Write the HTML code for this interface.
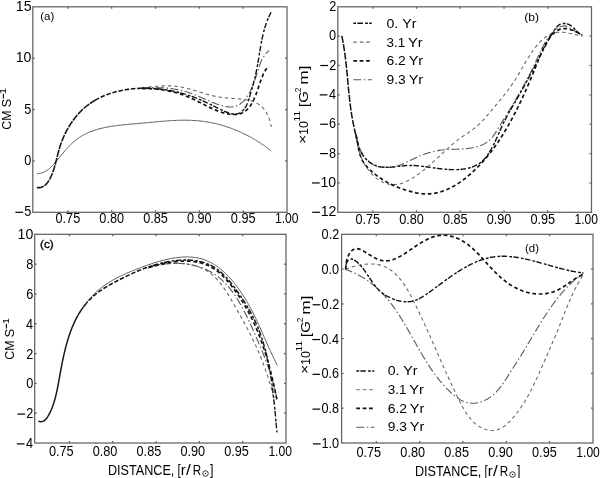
<!DOCTYPE html>
<html><head><meta charset="utf-8"><style>
html,body{margin:0;padding:0;background:#fff;width:600px;height:478px;overflow:hidden}
svg{display:block;font-family:"Liberation Sans", sans-serif;will-change:transform}
</style></head><body>
<svg width="600" height="478" viewBox="0 0 600 478" font-family='"Liberation Sans", sans-serif'>
<rect width="600" height="478" fill="#fff"/>
<rect x="32.8" y="6.8" width="254.2" height="205.5" fill="none" stroke="#626262" stroke-width="1.25"/>
<line x1="67.86" y1="212.3" x2="67.86" y2="210.3" stroke="#626262" stroke-width="1.25"/>
<line x1="67.86" y1="6.8" x2="67.86" y2="8.8" stroke="#626262" stroke-width="1.25"/>
<line x1="111.69" y1="212.3" x2="111.69" y2="210.3" stroke="#626262" stroke-width="1.25"/>
<line x1="111.69" y1="6.8" x2="111.69" y2="8.8" stroke="#626262" stroke-width="1.25"/>
<line x1="155.52" y1="212.3" x2="155.52" y2="210.3" stroke="#626262" stroke-width="1.25"/>
<line x1="155.52" y1="6.8" x2="155.52" y2="8.8" stroke="#626262" stroke-width="1.25"/>
<line x1="199.34" y1="212.3" x2="199.34" y2="210.3" stroke="#626262" stroke-width="1.25"/>
<line x1="199.34" y1="6.8" x2="199.34" y2="8.8" stroke="#626262" stroke-width="1.25"/>
<line x1="243.17" y1="212.3" x2="243.17" y2="210.3" stroke="#626262" stroke-width="1.25"/>
<line x1="243.17" y1="6.8" x2="243.17" y2="8.8" stroke="#626262" stroke-width="1.25"/>
<line x1="32.8" y1="58.17" x2="34.8" y2="58.17" stroke="#626262" stroke-width="1.25"/>
<line x1="287" y1="58.17" x2="285" y2="58.17" stroke="#626262" stroke-width="1.25"/>
<line x1="32.8" y1="109.55" x2="34.8" y2="109.55" stroke="#626262" stroke-width="1.25"/>
<line x1="287" y1="109.55" x2="285" y2="109.55" stroke="#626262" stroke-width="1.25"/>
<line x1="32.8" y1="160.93" x2="34.8" y2="160.93" stroke="#626262" stroke-width="1.25"/>
<line x1="287" y1="160.93" x2="285" y2="160.93" stroke="#626262" stroke-width="1.25"/>
<text x="15.81" y="10.90" font-size="14.1" textLength="15.68" lengthAdjust="spacingAndGlyphs">15</text>
<text x="15.78" y="62.27" font-size="14.1" textLength="15.68" lengthAdjust="spacingAndGlyphs">10</text>
<text x="24.36" y="113.65" font-size="14.1" textLength="7.06" lengthAdjust="spacingAndGlyphs">5</text>
<text x="24.33" y="165.03" font-size="14.1" textLength="7.06" lengthAdjust="spacingAndGlyphs">0</text>
<text x="24.36" y="216.40" font-size="14.1" textLength="7.06" lengthAdjust="spacingAndGlyphs">5</text>
<rect x="15.37" y="211.70" width="7.7" height="1.2" fill="#000"/>
<text x="55.52" y="223.20" font-size="14.1" textLength="24.70" lengthAdjust="spacingAndGlyphs">0.75</text>
<text x="99.33" y="223.20" font-size="14.1" textLength="24.70" lengthAdjust="spacingAndGlyphs">0.80</text>
<text x="143.18" y="223.20" font-size="14.1" textLength="24.70" lengthAdjust="spacingAndGlyphs">0.85</text>
<text x="186.99" y="223.20" font-size="14.1" textLength="24.70" lengthAdjust="spacingAndGlyphs">0.90</text>
<text x="230.83" y="223.20" font-size="14.1" textLength="24.70" lengthAdjust="spacingAndGlyphs">0.95</text>
<text x="274.98" y="223.20" font-size="14.1" textLength="23.60" lengthAdjust="spacingAndGlyphs">1.00</text>
<rect x="337.8" y="6.8" width="253.7" height="205.5" fill="none" stroke="#626262" stroke-width="1.25"/>
<line x1="372.79" y1="212.3" x2="372.79" y2="210.3" stroke="#626262" stroke-width="1.25"/>
<line x1="372.79" y1="6.8" x2="372.79" y2="8.8" stroke="#626262" stroke-width="1.25"/>
<line x1="416.53" y1="212.3" x2="416.53" y2="210.3" stroke="#626262" stroke-width="1.25"/>
<line x1="416.53" y1="6.8" x2="416.53" y2="8.8" stroke="#626262" stroke-width="1.25"/>
<line x1="460.28" y1="212.3" x2="460.28" y2="210.3" stroke="#626262" stroke-width="1.25"/>
<line x1="460.28" y1="6.8" x2="460.28" y2="8.8" stroke="#626262" stroke-width="1.25"/>
<line x1="504.02" y1="212.3" x2="504.02" y2="210.3" stroke="#626262" stroke-width="1.25"/>
<line x1="504.02" y1="6.8" x2="504.02" y2="8.8" stroke="#626262" stroke-width="1.25"/>
<line x1="547.76" y1="212.3" x2="547.76" y2="210.3" stroke="#626262" stroke-width="1.25"/>
<line x1="547.76" y1="6.8" x2="547.76" y2="8.8" stroke="#626262" stroke-width="1.25"/>
<line x1="337.8" y1="36.16" x2="339.8" y2="36.16" stroke="#626262" stroke-width="1.25"/>
<line x1="591.5" y1="36.16" x2="589.5" y2="36.16" stroke="#626262" stroke-width="1.25"/>
<line x1="337.8" y1="65.51" x2="339.8" y2="65.51" stroke="#626262" stroke-width="1.25"/>
<line x1="591.5" y1="65.51" x2="589.5" y2="65.51" stroke="#626262" stroke-width="1.25"/>
<line x1="337.8" y1="94.87" x2="339.8" y2="94.87" stroke="#626262" stroke-width="1.25"/>
<line x1="591.5" y1="94.87" x2="589.5" y2="94.87" stroke="#626262" stroke-width="1.25"/>
<line x1="337.8" y1="124.23" x2="339.8" y2="124.23" stroke="#626262" stroke-width="1.25"/>
<line x1="591.5" y1="124.23" x2="589.5" y2="124.23" stroke="#626262" stroke-width="1.25"/>
<line x1="337.8" y1="153.59" x2="339.8" y2="153.59" stroke="#626262" stroke-width="1.25"/>
<line x1="591.5" y1="153.59" x2="589.5" y2="153.59" stroke="#626262" stroke-width="1.25"/>
<line x1="337.8" y1="182.94" x2="339.8" y2="182.94" stroke="#626262" stroke-width="1.25"/>
<line x1="591.5" y1="182.94" x2="589.5" y2="182.94" stroke="#626262" stroke-width="1.25"/>
<text x="329.19" y="10.90" font-size="14.1" textLength="7.06" lengthAdjust="spacingAndGlyphs">2</text>
<text x="329.03" y="40.26" font-size="14.1" textLength="7.06" lengthAdjust="spacingAndGlyphs">0</text>
<text x="329.19" y="69.61" font-size="14.1" textLength="7.06" lengthAdjust="spacingAndGlyphs">2</text>
<rect x="320.33" y="64.91" width="7.7" height="1.2" fill="#000"/>
<text x="328.91" y="98.97" font-size="14.1" textLength="7.06" lengthAdjust="spacingAndGlyphs">4</text>
<rect x="319.69" y="94.27" width="7.7" height="1.2" fill="#000"/>
<text x="329.10" y="128.33" font-size="14.1" textLength="7.06" lengthAdjust="spacingAndGlyphs">6</text>
<rect x="320.23" y="123.63" width="7.7" height="1.2" fill="#000"/>
<text x="329.10" y="157.69" font-size="14.1" textLength="7.06" lengthAdjust="spacingAndGlyphs">8</text>
<rect x="320.14" y="152.99" width="7.7" height="1.2" fill="#000"/>
<text x="320.48" y="187.04" font-size="14.1" textLength="15.68" lengthAdjust="spacingAndGlyphs">10</text>
<rect x="312.04" y="182.34" width="7.7" height="1.2" fill="#000"/>
<text x="320.65" y="216.40" font-size="14.1" textLength="15.68" lengthAdjust="spacingAndGlyphs">12</text>
<rect x="312.21" y="211.70" width="7.7" height="1.2" fill="#000"/>
<text x="355.45" y="224.00" font-size="14.1" textLength="24.70" lengthAdjust="spacingAndGlyphs">0.75</text>
<text x="399.18" y="224.00" font-size="14.1" textLength="24.70" lengthAdjust="spacingAndGlyphs">0.80</text>
<text x="442.93" y="224.00" font-size="14.1" textLength="24.70" lengthAdjust="spacingAndGlyphs">0.85</text>
<text x="486.66" y="224.00" font-size="14.1" textLength="24.70" lengthAdjust="spacingAndGlyphs">0.90</text>
<text x="530.42" y="224.00" font-size="14.1" textLength="24.70" lengthAdjust="spacingAndGlyphs">0.95</text>
<text x="574.48" y="224.00" font-size="14.1" textLength="23.60" lengthAdjust="spacingAndGlyphs">1.00</text>
<rect x="34.7" y="234.3" width="251.3" height="208.7" fill="none" stroke="#626262" stroke-width="1.25"/>
<line x1="69.36" y1="443" x2="69.36" y2="441" stroke="#626262" stroke-width="1.25"/>
<line x1="69.36" y1="234.3" x2="69.36" y2="236.3" stroke="#626262" stroke-width="1.25"/>
<line x1="112.69" y1="443" x2="112.69" y2="441" stroke="#626262" stroke-width="1.25"/>
<line x1="112.69" y1="234.3" x2="112.69" y2="236.3" stroke="#626262" stroke-width="1.25"/>
<line x1="156.02" y1="443" x2="156.02" y2="441" stroke="#626262" stroke-width="1.25"/>
<line x1="156.02" y1="234.3" x2="156.02" y2="236.3" stroke="#626262" stroke-width="1.25"/>
<line x1="199.34" y1="443" x2="199.34" y2="441" stroke="#626262" stroke-width="1.25"/>
<line x1="199.34" y1="234.3" x2="199.34" y2="236.3" stroke="#626262" stroke-width="1.25"/>
<line x1="242.67" y1="443" x2="242.67" y2="441" stroke="#626262" stroke-width="1.25"/>
<line x1="242.67" y1="234.3" x2="242.67" y2="236.3" stroke="#626262" stroke-width="1.25"/>
<line x1="34.7" y1="264.11" x2="36.7" y2="264.11" stroke="#626262" stroke-width="1.25"/>
<line x1="286" y1="264.11" x2="284" y2="264.11" stroke="#626262" stroke-width="1.25"/>
<line x1="34.7" y1="293.93" x2="36.7" y2="293.93" stroke="#626262" stroke-width="1.25"/>
<line x1="286" y1="293.93" x2="284" y2="293.93" stroke="#626262" stroke-width="1.25"/>
<line x1="34.7" y1="323.74" x2="36.7" y2="323.74" stroke="#626262" stroke-width="1.25"/>
<line x1="286" y1="323.74" x2="284" y2="323.74" stroke="#626262" stroke-width="1.25"/>
<line x1="34.7" y1="353.56" x2="36.7" y2="353.56" stroke="#626262" stroke-width="1.25"/>
<line x1="286" y1="353.56" x2="284" y2="353.56" stroke="#626262" stroke-width="1.25"/>
<line x1="34.7" y1="383.37" x2="36.7" y2="383.37" stroke="#626262" stroke-width="1.25"/>
<line x1="286" y1="383.37" x2="284" y2="383.37" stroke="#626262" stroke-width="1.25"/>
<line x1="34.7" y1="413.19" x2="36.7" y2="413.19" stroke="#626262" stroke-width="1.25"/>
<line x1="286" y1="413.19" x2="284" y2="413.19" stroke="#626262" stroke-width="1.25"/>
<text x="17.58" y="239.30" font-size="14.1" textLength="15.68" lengthAdjust="spacingAndGlyphs">10</text>
<text x="26.20" y="269.11" font-size="14.1" textLength="7.06" lengthAdjust="spacingAndGlyphs">8</text>
<text x="26.20" y="298.93" font-size="14.1" textLength="7.06" lengthAdjust="spacingAndGlyphs">6</text>
<text x="26.01" y="328.74" font-size="14.1" textLength="7.06" lengthAdjust="spacingAndGlyphs">4</text>
<text x="26.29" y="358.56" font-size="14.1" textLength="7.06" lengthAdjust="spacingAndGlyphs">2</text>
<text x="26.13" y="388.37" font-size="14.1" textLength="7.06" lengthAdjust="spacingAndGlyphs">0</text>
<text x="26.29" y="418.19" font-size="14.1" textLength="7.06" lengthAdjust="spacingAndGlyphs">2</text>
<rect x="17.43" y="413.49" width="7.7" height="1.2" fill="#000"/>
<text x="26.01" y="448.00" font-size="14.1" textLength="7.06" lengthAdjust="spacingAndGlyphs">4</text>
<rect x="16.79" y="443.30" width="7.7" height="1.2" fill="#000"/>
<text x="48.91" y="456.30" font-size="14.1" textLength="24.70" lengthAdjust="spacingAndGlyphs">0.75</text>
<text x="92.72" y="456.30" font-size="14.1" textLength="24.70" lengthAdjust="spacingAndGlyphs">0.80</text>
<text x="136.57" y="456.30" font-size="14.1" textLength="24.70" lengthAdjust="spacingAndGlyphs">0.85</text>
<text x="180.38" y="456.30" font-size="14.1" textLength="24.70" lengthAdjust="spacingAndGlyphs">0.90</text>
<text x="224.23" y="456.30" font-size="14.1" textLength="24.70" lengthAdjust="spacingAndGlyphs">0.95</text>
<text x="268.38" y="456.30" font-size="14.1" textLength="23.60" lengthAdjust="spacingAndGlyphs">1.00</text>
<rect x="341.6" y="234.3" width="251.39999999999998" height="208.7" fill="none" stroke="#626262" stroke-width="1.25"/>
<line x1="376.28" y1="443" x2="376.28" y2="441" stroke="#626262" stroke-width="1.25"/>
<line x1="376.28" y1="234.3" x2="376.28" y2="236.3" stroke="#626262" stroke-width="1.25"/>
<line x1="419.62" y1="443" x2="419.62" y2="441" stroke="#626262" stroke-width="1.25"/>
<line x1="419.62" y1="234.3" x2="419.62" y2="236.3" stroke="#626262" stroke-width="1.25"/>
<line x1="462.97" y1="443" x2="462.97" y2="441" stroke="#626262" stroke-width="1.25"/>
<line x1="462.97" y1="234.3" x2="462.97" y2="236.3" stroke="#626262" stroke-width="1.25"/>
<line x1="506.31" y1="443" x2="506.31" y2="441" stroke="#626262" stroke-width="1.25"/>
<line x1="506.31" y1="234.3" x2="506.31" y2="236.3" stroke="#626262" stroke-width="1.25"/>
<line x1="549.66" y1="443" x2="549.66" y2="441" stroke="#626262" stroke-width="1.25"/>
<line x1="549.66" y1="234.3" x2="549.66" y2="236.3" stroke="#626262" stroke-width="1.25"/>
<line x1="341.6" y1="269.08" x2="343.6" y2="269.08" stroke="#626262" stroke-width="1.25"/>
<line x1="593" y1="269.08" x2="591" y2="269.08" stroke="#626262" stroke-width="1.25"/>
<line x1="341.6" y1="303.87" x2="343.6" y2="303.87" stroke="#626262" stroke-width="1.25"/>
<line x1="593" y1="303.87" x2="591" y2="303.87" stroke="#626262" stroke-width="1.25"/>
<line x1="341.6" y1="338.65" x2="343.6" y2="338.65" stroke="#626262" stroke-width="1.25"/>
<line x1="593" y1="338.65" x2="591" y2="338.65" stroke="#626262" stroke-width="1.25"/>
<line x1="341.6" y1="373.43" x2="343.6" y2="373.43" stroke="#626262" stroke-width="1.25"/>
<line x1="593" y1="373.43" x2="591" y2="373.43" stroke="#626262" stroke-width="1.25"/>
<line x1="341.6" y1="408.22" x2="343.6" y2="408.22" stroke="#626262" stroke-width="1.25"/>
<line x1="593" y1="408.22" x2="591" y2="408.22" stroke="#626262" stroke-width="1.25"/>
<text x="321.60" y="239.30" font-size="14.1" textLength="17.64" lengthAdjust="spacingAndGlyphs">0.2</text>
<text x="321.44" y="274.08" font-size="14.1" textLength="17.64" lengthAdjust="spacingAndGlyphs">0.0</text>
<text x="321.60" y="308.87" font-size="14.1" textLength="17.64" lengthAdjust="spacingAndGlyphs">0.2</text>
<rect x="312.60" y="304.17" width="7.7" height="1.2" fill="#000"/>
<text x="321.31" y="343.65" font-size="14.1" textLength="17.64" lengthAdjust="spacingAndGlyphs">0.4</text>
<rect x="312.32" y="338.95" width="7.7" height="1.2" fill="#000"/>
<text x="321.50" y="378.43" font-size="14.1" textLength="17.64" lengthAdjust="spacingAndGlyphs">0.6</text>
<rect x="312.51" y="373.73" width="7.7" height="1.2" fill="#000"/>
<text x="321.50" y="413.22" font-size="14.1" textLength="17.64" lengthAdjust="spacingAndGlyphs">0.8</text>
<rect x="312.51" y="408.52" width="7.7" height="1.2" fill="#000"/>
<text x="321.44" y="448.00" font-size="14.1" textLength="17.64" lengthAdjust="spacingAndGlyphs">1.0</text>
<rect x="312.89" y="443.30" width="7.7" height="1.2" fill="#000"/>
<text x="356.46" y="456.60" font-size="14.1" textLength="24.70" lengthAdjust="spacingAndGlyphs">0.75</text>
<text x="400.34" y="456.60" font-size="14.1" textLength="24.70" lengthAdjust="spacingAndGlyphs">0.80</text>
<text x="444.26" y="456.60" font-size="14.1" textLength="24.70" lengthAdjust="spacingAndGlyphs">0.85</text>
<text x="488.14" y="456.60" font-size="14.1" textLength="24.70" lengthAdjust="spacingAndGlyphs">0.90</text>
<text x="532.06" y="456.60" font-size="14.1" textLength="24.70" lengthAdjust="spacingAndGlyphs">0.95</text>
<text x="576.28" y="456.60" font-size="14.1" textLength="23.60" lengthAdjust="spacingAndGlyphs">1.00</text>
<text x="40.23" y="20.40" font-size="11.5" textLength="14.09" lengthAdjust="spacingAndGlyphs">(a)</text>
<text x="524.24" y="20.50" font-size="11.5" textLength="14.81" lengthAdjust="spacingAndGlyphs">(b)</text>
<text x="39.96" y="247.80" font-size="11.5" textLength="13.79" lengthAdjust="spacingAndGlyphs" stroke="#000" stroke-width="0.35">(c)</text>
<text x="524.98" y="252.00" font-size="11.5" textLength="14.03" lengthAdjust="spacingAndGlyphs">(d)</text>
<text x="107.96" y="474.60" font-size="14.1" textLength="66.43" lengthAdjust="spacingAndGlyphs">DISTANCE,</text>
<text x="177.42" y="474.60" font-size="14.1" textLength="3.17" lengthAdjust="spacingAndGlyphs">[</text>
<text x="180.74" y="474.60" font-size="14.1" textLength="5.00" lengthAdjust="spacingAndGlyphs">r</text>
<text x="186.00" y="474.60" font-size="14.1" textLength="4.81" lengthAdjust="spacingAndGlyphs">/</text>
<text x="192.64" y="474.60" font-size="14.1" textLength="8.41" lengthAdjust="spacingAndGlyphs">R</text>
<text x="210.11" y="474.60" font-size="14.1" textLength="3.47" lengthAdjust="spacingAndGlyphs">]</text>
<circle cx="205.5" cy="473.5" r="2.75" fill="none" stroke="#222" stroke-width="0.9"/>
<circle cx="205.5" cy="473.5" r="0.75" fill="#222"/>
<text x="414.96" y="475.60" font-size="14.1" textLength="66.43" lengthAdjust="spacingAndGlyphs">DISTANCE,</text>
<text x="484.42" y="475.60" font-size="14.1" textLength="3.17" lengthAdjust="spacingAndGlyphs">[</text>
<text x="487.74" y="475.60" font-size="14.1" textLength="5.00" lengthAdjust="spacingAndGlyphs">r</text>
<text x="493.00" y="475.60" font-size="14.1" textLength="4.81" lengthAdjust="spacingAndGlyphs">/</text>
<text x="499.64" y="475.60" font-size="14.1" textLength="8.41" lengthAdjust="spacingAndGlyphs">R</text>
<text x="517.11" y="475.60" font-size="14.1" textLength="3.47" lengthAdjust="spacingAndGlyphs">]</text>
<circle cx="512.5" cy="474.5" r="2.75" fill="none" stroke="#222" stroke-width="0.9"/>
<circle cx="512.5" cy="474.5" r="0.75" fill="#222"/>
<g transform="translate(10.9,129.1) rotate(-90)">
<text x="-0.62" y="0.00" font-size="13.1" textLength="19.24" lengthAdjust="spacingAndGlyphs">CM</text>
<text x="21.51" y="0.00" font-size="13.1" textLength="8.70" lengthAdjust="spacingAndGlyphs">S</text>
<rect x="30.6" y="-8.05" width="4.6" height="1.1" fill="#000"/>
<text x="34.83" y="-4.60" font-size="8.6" textLength="6.43" lengthAdjust="spacingAndGlyphs">1</text>
</g>
<g transform="translate(13.9,359.1) rotate(-90)">
<text x="-0.62" y="0.00" font-size="13.1" textLength="19.24" lengthAdjust="spacingAndGlyphs">CM</text>
<text x="21.51" y="0.00" font-size="13.1" textLength="8.70" lengthAdjust="spacingAndGlyphs">S</text>
<rect x="30.6" y="-8.05" width="4.6" height="1.1" fill="#000"/>
<text x="34.83" y="-4.60" font-size="8.6" textLength="6.43" lengthAdjust="spacingAndGlyphs">1</text>
</g>
<g transform="translate(308.0,142.8) rotate(-90)">
<text x="-1.13" y="-0.60" font-size="13.1" textLength="9.45" lengthAdjust="spacingAndGlyphs">×</text>
<text x="7.76" y="0.00" font-size="13.1" textLength="13.94" lengthAdjust="spacingAndGlyphs">10</text>
<text x="21.35" y="-7.80" font-size="9.0" textLength="10.44" lengthAdjust="spacingAndGlyphs">11</text>
<text x="35.91" y="0.00" font-size="13.1" textLength="15.82" lengthAdjust="spacingAndGlyphs">[G</text>
<text x="50.68" y="-7.30" font-size="9.0" textLength="4.64" lengthAdjust="spacingAndGlyphs">2</text>
<text x="58.03" y="0.00" font-size="13.1" textLength="19.30" lengthAdjust="spacingAndGlyphs">m]</text>
</g>
<g transform="translate(310.0,372.8) rotate(-90)">
<text x="-1.13" y="-0.60" font-size="13.1" textLength="9.45" lengthAdjust="spacingAndGlyphs">×</text>
<text x="7.76" y="0.00" font-size="13.1" textLength="13.94" lengthAdjust="spacingAndGlyphs">10</text>
<text x="21.35" y="-7.80" font-size="9.0" textLength="10.44" lengthAdjust="spacingAndGlyphs">11</text>
<text x="35.91" y="0.00" font-size="13.1" textLength="15.82" lengthAdjust="spacingAndGlyphs">[G</text>
<text x="50.68" y="-7.30" font-size="9.0" textLength="4.64" lengthAdjust="spacingAndGlyphs">2</text>
<text x="58.03" y="0.00" font-size="13.1" textLength="19.30" lengthAdjust="spacingAndGlyphs">m]</text>
</g>
<line x1="353.3" y1="23.30" x2="371.8" y2="23.30" stroke="#111" stroke-width="1.4" stroke-dasharray="2.8 1.3 5.5 2.2"/>
<text x="386.54" y="27.80" font-size="13.0" textLength="11.75" lengthAdjust="spacingAndGlyphs">0.</text>
<text x="402.18" y="27.80" font-size="13.0" textLength="14.23" lengthAdjust="spacingAndGlyphs">Yr</text>
<line x1="353.3" y1="42.13" x2="371.8" y2="42.13" stroke="#6a6a6a" stroke-width="1.1" stroke-dasharray="3.5 3"/>
<text x="386.60" y="46.60" font-size="13.0" textLength="18.64" lengthAdjust="spacingAndGlyphs">3.1</text>
<text x="407.97" y="46.60" font-size="13.0" textLength="14.75" lengthAdjust="spacingAndGlyphs">Yr</text>
<line x1="353.3" y1="60.96" x2="371.8" y2="60.96" stroke="#111" stroke-width="1.7" stroke-dasharray="3.7 2.7"/>
<text x="386.51" y="65.40" font-size="13.0" textLength="19.29" lengthAdjust="spacingAndGlyphs">6.2</text>
<text x="408.67" y="65.40" font-size="13.0" textLength="14.55" lengthAdjust="spacingAndGlyphs">Yr</text>
<line x1="353.3" y1="79.79" x2="371.8" y2="79.79" stroke="#5a5a5a" stroke-width="1.1" stroke-dasharray="8 2.5 1.5 2.5"/>
<text x="386.55" y="84.20" font-size="13.0" textLength="19.14" lengthAdjust="spacingAndGlyphs">9.3</text>
<text x="408.67" y="84.20" font-size="13.0" textLength="14.55" lengthAdjust="spacingAndGlyphs">Yr</text>
<line x1="356.3" y1="371.00" x2="374.3" y2="371.00" stroke="#111" stroke-width="1.4" stroke-dasharray="2.8 1.3 5.5 2.2"/>
<text x="387.74" y="375.20" font-size="13.0" textLength="11.75" lengthAdjust="spacingAndGlyphs">0.</text>
<text x="403.38" y="375.20" font-size="13.0" textLength="14.23" lengthAdjust="spacingAndGlyphs">Yr</text>
<line x1="356.3" y1="389.73" x2="374.3" y2="389.73" stroke="#6a6a6a" stroke-width="1.1" stroke-dasharray="3.5 3"/>
<text x="387.80" y="393.93" font-size="13.0" textLength="18.64" lengthAdjust="spacingAndGlyphs">3.1</text>
<text x="409.17" y="393.93" font-size="13.0" textLength="14.75" lengthAdjust="spacingAndGlyphs">Yr</text>
<line x1="356.3" y1="408.46" x2="374.3" y2="408.46" stroke="#111" stroke-width="1.7" stroke-dasharray="3.7 2.7"/>
<text x="387.71" y="412.66" font-size="13.0" textLength="19.29" lengthAdjust="spacingAndGlyphs">6.2</text>
<text x="409.87" y="412.66" font-size="13.0" textLength="14.55" lengthAdjust="spacingAndGlyphs">Yr</text>
<line x1="356.3" y1="427.19" x2="374.3" y2="427.19" stroke="#5a5a5a" stroke-width="1.1" stroke-dasharray="8 2.5 1.5 2.5"/>
<text x="387.75" y="431.39" font-size="13.0" textLength="19.14" lengthAdjust="spacingAndGlyphs">9.3</text>
<text x="409.87" y="431.39" font-size="13.0" textLength="14.55" lengthAdjust="spacingAndGlyphs">Yr</text>
<path d="M37.10,173.69 L38.33,173.62 L39.50,173.47 L40.64,173.25 L41.74,172.95 L42.81,172.59 L43.84,172.17 L44.84,171.68 L45.81,171.14 L46.75,170.54 L47.67,169.90 L48.57,169.21 L49.44,168.49 L50.30,167.72 L51.14,166.92 L51.96,166.09 L52.77,165.23 L53.58,164.35 L54.37,163.46 L55.16,162.54 L55.95,161.62 L56.73,160.69 L57.52,159.75 L58.30,158.80 L59.08,157.85 L59.86,156.90 L60.65,155.95 L61.44,155.00 L62.23,154.05 L63.02,153.10 L63.82,152.15 L64.62,151.21 L65.42,150.28 L66.24,149.35 L67.06,148.44 L67.88,147.54 L68.72,146.64 L69.56,145.77 L70.41,144.90 L71.27,144.05 L72.14,143.23 L73.02,142.42 L73.91,141.63 L74.82,140.86 L75.73,140.11 L76.66,139.39 L77.60,138.69 L78.56,138.02 L79.53,137.37 L80.51,136.74 L81.50,136.13 L82.50,135.55 L83.51,134.98 L84.54,134.44 L85.57,133.91 L86.62,133.41 L87.67,132.92 L88.74,132.46 L89.81,132.01 L90.90,131.58 L91.99,131.16 L93.09,130.76 L94.20,130.38 L95.32,130.02 L96.45,129.67 L97.58,129.33 L98.72,129.01 L99.87,128.70 L101.03,128.41 L102.19,128.13 L103.36,127.86 L104.53,127.60 L105.71,127.36 L106.90,127.13 L108.09,126.90 L109.28,126.69 L110.48,126.49 L111.69,126.30 L112.90,126.11 L114.11,125.94 L115.33,125.77 L116.55,125.61 L117.77,125.45 L119.00,125.31 L120.22,125.16 L121.45,125.03 L122.69,124.90 L123.92,124.77 L125.16,124.65 L126.39,124.53 L127.63,124.42 L128.87,124.31 L130.11,124.20 L131.35,124.09 L132.58,123.98 L133.82,123.88 L135.06,123.77 L136.30,123.67 L137.53,123.56 L138.77,123.46 L140.00,123.35 L141.23,123.24 L142.45,123.13 L143.68,123.02 L144.90,122.90 L146.13,122.79 L147.35,122.67 L148.56,122.56 L149.78,122.44 L151.00,122.32 L152.21,122.21 L153.42,122.10 L154.63,121.98 L155.84,121.87 L157.04,121.76 L158.25,121.65 L159.45,121.54 L160.66,121.44 L161.86,121.33 L163.06,121.23 L164.25,121.14 L165.45,121.04 L166.65,120.95 L167.84,120.87 L169.04,120.79 L170.23,120.71 L171.42,120.64 L172.61,120.57 L173.80,120.50 L174.99,120.45 L176.18,120.40 L177.36,120.35 L178.55,120.31 L179.74,120.28 L180.92,120.25 L182.10,120.23 L183.29,120.22 L184.47,120.21 L185.65,120.21 L186.84,120.22 L188.02,120.24 L189.20,120.27 L190.38,120.31 L191.56,120.35 L192.74,120.41 L193.92,120.47 L195.11,120.54 L196.29,120.63 L197.47,120.72 L198.65,120.83 L199.83,120.94 L201.01,121.07 L202.19,121.21 L203.37,121.36 L204.55,121.52 L205.73,121.69 L206.91,121.88 L208.09,122.08 L209.27,122.29 L210.46,122.51 L211.64,122.75 L212.82,122.99 L213.99,123.25 L215.17,123.52 L216.35,123.80 L217.53,124.09 L218.70,124.39 L219.87,124.71 L221.04,125.03 L222.21,125.37 L223.38,125.72 L224.54,126.07 L225.70,126.44 L226.86,126.82 L228.02,127.21 L229.18,127.61 L230.33,128.02 L231.47,128.44 L232.62,128.87 L233.76,129.31 L234.90,129.76 L236.03,130.22 L237.16,130.69 L238.29,131.17 L239.41,131.66 L240.52,132.16 L241.63,132.66 L242.74,133.18 L243.84,133.71 L244.94,134.24 L246.03,134.78 L247.12,135.34 L248.20,135.90 L249.28,136.47 L250.34,137.04 L251.41,137.63 L252.46,138.22 L253.52,138.83 L254.56,139.44 L255.60,140.06 L256.63,140.68 L257.65,141.32 L258.67,141.96 L259.68,142.61 L260.68,143.27 L261.67,143.94 L262.66,144.61 L263.63,145.29 L264.60,145.97 L265.57,146.67 L266.52,147.37 L267.46,148.08 L268.40,148.79 L269.33,149.51 L270.24,150.24 L271.15,150.98" fill="none" stroke="#5a5a5a" stroke-width="1.0" stroke-linecap="butt" stroke-linejoin="round"/>
<path d="M36.87,187.51 L38.12,187.63 L39.30,187.61 L40.43,187.45 L41.50,187.17 L42.51,186.77 L43.47,186.27 L44.38,185.67 L45.23,184.98 L46.05,184.21 L46.81,183.37 L47.54,182.47 L48.23,181.51 L48.87,180.52 L49.49,179.48 L50.07,178.43 L50.62,177.35 L51.13,176.26 L51.63,175.17 L52.09,174.06 L52.53,172.94 L52.95,171.81 L53.35,170.68 L53.73,169.53 L54.10,168.38 L54.45,167.22 L54.78,166.06 L55.11,164.89 L55.42,163.72 L55.73,162.54 L56.03,161.36 L56.33,160.18 L56.62,158.99 L56.91,157.80 L57.21,156.61 L57.50,155.42 L57.80,154.23 L58.11,153.05 L58.42,151.86 L58.75,150.67 L59.08,149.49 L59.43,148.31 L59.79,147.14 L60.17,145.97 L60.56,144.80 L60.96,143.64 L61.38,142.49 L61.82,141.34 L62.26,140.19 L62.72,139.06 L63.20,137.92 L63.69,136.80 L64.19,135.68 L64.71,134.57 L65.24,133.47 L65.78,132.37 L66.34,131.29 L66.91,130.21 L67.50,129.14 L68.10,128.08 L68.71,127.03 L69.34,125.99 L69.97,124.96 L70.63,123.94 L71.29,122.93 L71.97,121.94 L72.66,120.95 L73.37,119.98 L74.09,119.01 L74.82,118.06 L75.56,117.13 L76.32,116.20 L77.09,115.29 L77.87,114.39 L78.67,113.51 L79.47,112.64 L80.30,111.78 L81.13,110.94 L81.98,110.12 L82.83,109.31 L83.71,108.52 L84.59,107.74 L85.49,106.98 L86.39,106.23 L87.32,105.51 L88.25,104.79 L89.19,104.10 L90.15,103.42 L91.12,102.76 L92.09,102.11 L93.08,101.48 L94.08,100.87 L95.09,100.27" fill="none" stroke="#111" stroke-width="1.55" stroke-dasharray="7 1" stroke-linecap="butt" stroke-linejoin="round"/>
<path d="M95.09,100.27 L96.11,99.69 L97.14,99.12 L98.18,98.57 L99.23,98.03 L100.29,97.51 L101.35,97.01 L102.43,96.52 L103.51,96.04 L104.61,95.58 L105.71,95.13 L106.81,94.70 L107.93,94.29 L109.05,93.89 L110.18,93.50 L111.32,93.13 L112.47,92.77 L113.62,92.43 L114.77,92.10 L115.94,91.78 L117.11,91.48 L118.28,91.20 L119.46,90.92 L120.65,90.66 L121.84,90.42 L123.03,90.19 L124.23,89.97 L125.43,89.76 L126.64,89.57 L127.85,89.39 L129.07,89.22 L130.28,89.07 L131.51,88.93 L132.73,88.80 L133.96,88.69 L135.19,88.59 L136.42,88.50 L137.65,88.42 L138.89,88.36 L140.12,88.30 L141.36,88.26 L142.60,88.23" fill="none" stroke="#111" stroke-width="1.55" stroke-dasharray="4.5 1.8" stroke-linecap="butt" stroke-linejoin="round"/>
<path d="M141.90,87.97 L143.12,87.80 L144.33,87.64 L145.55,87.48 L146.76,87.33 L147.97,87.18 L149.18,87.03 L150.39,86.89 L151.60,86.76 L152.81,86.63 L154.02,86.51 L155.22,86.40 L156.43,86.29 L157.63,86.20 L158.83,86.11 L160.03,86.04 L161.23,85.97 L162.43,85.92 L163.63,85.88 L164.82,85.85 L166.02,85.84 L167.21,85.84 L168.40,85.85 L169.59,85.88 L170.78,85.92 L171.96,85.98 L173.15,86.06 L174.33,86.15 L175.51,86.26 L176.69,86.39 L177.87,86.54 L179.05,86.71 L180.22,86.89 L181.40,87.10 L182.57,87.33 L183.74,87.57 L184.90,87.83 L186.07,88.11 L187.24,88.40 L188.40,88.71 L189.57,89.02 L190.73,89.35 L191.90,89.68 L193.06,90.02 L194.23,90.37 L195.39,90.73 L196.56,91.08 L197.72,91.45 L198.89,91.81 L200.06,92.17 L201.22,92.53 L202.39,92.89 L203.57,93.25 L204.74,93.60 L205.91,93.95 L207.09,94.29 L208.27,94.62 L209.45,94.94 L210.63,95.25 L211.81,95.55 L213.00,95.83 L214.19,96.10 L215.39,96.36 L216.58,96.59 L217.78,96.81 L218.99,97.01 L220.19,97.19 L221.40,97.36 L222.61,97.51 L223.83,97.64 L225.04,97.77 L226.26,97.89 L227.47,97.99 L228.69,98.09 L229.91,98.19 L231.13,98.28 L232.34,98.37 L233.55,98.46 L234.77,98.55 L235.98,98.64 L237.19,98.74 L238.39,98.84 L239.59,98.95 L240.79,99.07 L241.98,99.20 L243.17,99.34 L244.35,99.50 L245.53,99.67 L246.69,99.86 L247.85,100.08 L248.99,100.32 L250.12,100.59 L251.22,100.89 L252.31,101.23 L253.39,101.60 L254.43,102.01 L255.46,102.46 L256.46,102.96 L257.43,103.50 L258.38,104.10 L259.29,104.73 L260.18,105.41 L261.04,106.14 L261.87,106.90 L262.67,107.71 L263.44,108.56 L264.18,109.45 L264.89,110.38 L265.57,111.35 L266.21,112.36 L266.82,113.40 L267.40,114.47 L267.94,115.59 L268.45,116.73 L268.93,117.91 L269.37,119.12 L269.77,120.36 L270.14,121.63 L270.47,122.93 L270.76,124.26 L271.02,125.62 L271.24,127.00" fill="none" stroke="#6a6a6a" stroke-width="1.1" stroke-dasharray="3.5 3" stroke-linecap="butt" stroke-linejoin="round"/>
<path d="M141.55,88.14 L142.77,88.05 L144.00,87.97 L145.22,87.89 L146.45,87.83 L147.67,87.78 L148.89,87.73 L150.11,87.70 L151.32,87.67 L152.53,87.65 L153.74,87.63 L154.94,87.63 L156.15,87.64 L157.35,87.66 L158.54,87.68 L159.74,87.72 L160.93,87.76 L162.12,87.82 L163.31,87.89 L164.49,87.96 L165.67,88.05 L166.85,88.15 L168.03,88.27 L169.20,88.39 L170.37,88.52 L171.54,88.67 L172.71,88.83 L173.88,89.01 L175.04,89.19 L176.20,89.39 L177.36,89.60 L178.51,89.83 L179.67,90.07 L180.82,90.32 L181.97,90.59 L183.11,90.88 L184.26,91.17 L185.40,91.49 L186.54,91.82 L187.68,92.16 L188.82,92.52 L189.95,92.90 L191.09,93.29 L192.22,93.70 L193.35,94.12 L194.48,94.56 L195.61,95.02 L196.73,95.48 L197.86,95.96 L198.98,96.44 L200.11,96.94 L201.24,97.43 L202.36,97.94 L203.49,98.44 L204.62,98.95 L205.76,99.46 L206.89,99.96 L208.03,100.46 L209.17,100.96 L210.31,101.45 L211.46,101.93 L212.61,102.41 L213.77,102.87 L214.93,103.32 L216.09,103.76 L217.26,104.18 L218.44,104.58 L219.62,104.97 L220.80,105.33 L221.99,105.66 L223.17,105.96 L224.35,106.23 L225.52,106.47 L226.68,106.66 L227.84,106.80 L228.98,106.90 L230.11,106.95 L231.22,106.94 L232.31,106.87 L233.38,106.74 L234.43,106.54 L235.45,106.27 L236.45,105.94 L237.42,105.53 L238.37,105.06 L239.29,104.53 L240.18,103.94 L241.05,103.29 L241.90,102.59 L242.73,101.83 L243.53,101.03 L244.31,100.18 L245.07,99.29 L245.80,98.35 L246.52,97.38 L247.21,96.37 L247.88,95.33 L248.53,94.26 L249.17,93.15 L249.78,92.03 L250.37,90.88 L250.95,89.71 L251.51,88.53 L252.05,87.33 L252.57,86.12 L253.07,84.90 L253.56,83.67 L254.03,82.44 L254.49,81.20 L254.93,79.97 L255.36,78.74 L255.77,77.52 L256.16,76.31 L256.55,75.11 L256.92,73.92 L257.27,72.75 L257.62,71.59 L257.97,70.46 L258.31,69.33 L258.65,68.22 L259.00,67.12 L259.36,66.04 L259.73,64.98 L260.12,63.92 L260.52,62.88 L260.95,61.85 L261.40,60.84 L261.88,59.83 L262.40,58.84 L262.95,57.86 L263.53,56.90 L264.17,55.94 L264.85,54.99 L265.57,54.06 L266.35,53.13 L267.19,52.21 L268.09,51.31 L269.05,50.41" fill="none" stroke="#5a5a5a" stroke-width="1.1" stroke-dasharray="8 2.5 1.5 2.5" stroke-linecap="butt" stroke-linejoin="round"/>
<path d="M142.02,88.69 L143.24,88.66 L144.46,88.64 L145.67,88.64 L146.89,88.65 L148.10,88.66 L149.31,88.69 L150.51,88.74 L151.71,88.79 L152.91,88.86 L154.11,88.93 L155.30,89.02 L156.48,89.12 L157.67,89.24 L158.85,89.36 L160.03,89.50 L161.20,89.65 L162.37,89.81 L163.54,89.98 L164.71,90.17 L165.87,90.37 L167.03,90.58 L168.19,90.81 L169.35,91.05 L170.50,91.30 L171.65,91.56 L172.80,91.84 L173.95,92.13 L175.10,92.43 L176.24,92.75 L177.38,93.08 L178.53,93.43 L179.67,93.79 L180.80,94.16 L181.94,94.55 L183.08,94.95 L184.21,95.36 L185.35,95.79 L186.48,96.24 L187.61,96.69 L188.75,97.17 L189.88,97.66 L191.01,98.16 L192.14,98.67 L193.27,99.20 L194.40,99.74 L195.53,100.29 L196.66,100.84 L197.79,101.40 L198.92,101.97 L200.05,102.54 L201.17,103.11 L202.30,103.68 L203.43,104.26 L204.56,104.83 L205.68,105.40 L206.81,105.96 L207.94,106.52 L209.07,107.07 L210.19,107.61 L211.32,108.14 L212.45,108.66 L213.58,109.16 L214.70,109.66 L215.83,110.13 L216.96,110.59 L218.09,111.03 L219.22,111.45 L220.35,111.85 L221.47,112.23 L222.60,112.59 L223.73,112.91 L224.86,113.21 L225.99,113.49 L227.12,113.73 L228.25,113.95 L229.38,114.13 L230.52,114.27 L231.65,114.38 L232.78,114.46 L233.91,114.50 L235.04,114.49 L236.17,114.44 L237.28,114.33 L238.38,114.17 L239.45,113.95 L240.51,113.65 L241.54,113.29 L242.54,112.84 L243.51,112.32 L244.45,111.73 L245.36,111.07 L246.24,110.34 L247.08,109.56 L247.89,108.73 L248.67,107.84 L249.42,106.91 L250.14,105.95 L250.83,104.95 L251.48,103.92 L252.10,102.87 L252.70,101.79 L253.27,100.69 L253.81,99.58 L254.33,98.44 L254.83,97.29 L255.31,96.13 L255.78,94.95 L256.23,93.76 L256.66,92.57 L257.09,91.36 L257.51,90.16 L257.92,88.95 L258.32,87.74 L258.72,86.53 L259.12,85.32 L259.53,84.12 L259.93,82.93 L260.34,81.74 L260.76,80.56 L261.18,79.40 L261.62,78.25 L262.07,77.12 L262.53,76.00 L263.01,74.90 L263.51,73.83 L264.03,72.78 L264.57,71.75 L265.14,70.75 L265.73,69.78 L266.36,68.84 L267.01,67.93 L267.70,67.06" fill="none" stroke="#111" stroke-width="1.7" stroke-dasharray="3.7 2.7" stroke-linecap="butt" stroke-linejoin="round"/>
<path d="M141.36,88.26 L142.60,88.23 L143.84,88.22 L145.08,88.21 L146.32,88.22 L147.57,88.24 L148.81,88.27 L150.05,88.31 L151.29,88.37 L152.53,88.43 L153.77,88.51 L155.01,88.60 L156.24,88.69 L157.48,88.80 L158.71,88.92 L159.94,89.06 L161.17,89.20 L162.40,89.35 L163.62,89.51 L164.85,89.69 L166.06,89.87 L167.28,90.06 L168.49,90.27 L169.70,90.48 L170.90,90.70 L172.10,90.94 L173.29,91.18 L174.48,91.44 L175.66,91.70 L176.84,91.97 L178.02,92.25 L179.19,92.54 L180.35,92.84 L181.50,93.15 L182.65,93.47 L183.80,93.80 L184.93,94.14 L186.06,94.48 L187.19,94.83 L188.30,95.20 L189.41,95.57 L190.51,95.95 L191.60,96.33 L192.68,96.73 L193.76,97.13 L194.84,97.54 L195.91,97.97 L196.97,98.39 L198.04,98.83 L199.10,99.28 L200.16,99.73 L201.22,100.19 L202.29,100.66 L203.35,101.14 L204.42,101.63 L205.50,102.12 L206.58,102.63 L207.66,103.14 L208.75,103.66 L209.85,104.19 L210.96,104.72 L212.07,105.27 L213.20,105.82 L214.34,106.38 L215.49,106.95 L216.66,107.53 L217.84,108.11 L219.03,108.70 L220.23,109.29 L221.44,109.88 L222.65,110.45 L223.87,111.00 L225.08,111.53 L226.28,112.03 L227.48,112.48 L228.67,112.90 L229.83,113.26 L230.98,113.56 L232.11,113.80 L233.22,113.98 L234.29,114.07 L235.33,114.09 L236.34,114.01 L237.31,113.84 L238.25,113.59 L239.14,113.24 L240.00,112.81 L240.83,112.31 L241.61,111.73 L242.37,111.07 L243.09,110.35 L243.77,109.57 L244.43,108.72 L245.05,107.82 L245.63,106.86 L246.19,105.86 L246.72,104.81 L247.21,103.72 L247.68,102.59 L248.12,101.43 L248.54,100.25 L248.94,99.05 L249.32,97.83 L249.69,96.60 L250.05,95.37 L250.41,94.14 L250.76,92.92 L251.11,91.71 L251.46,90.50 L251.80,89.30 L252.14,88.10 L252.47,86.91 L252.80,85.72 L253.12,84.54 L253.44,83.36 L253.76,82.19 L254.06,81.01 L254.36,79.84 L254.66,78.67 L254.95,77.50 L255.23,76.33 L255.50,75.15 L255.76,73.98 L256.02,72.80 L256.27,71.63 L256.51,70.45 L256.75,69.26 L256.97,68.08 L257.20,66.90 L257.41,65.71 L257.63,64.52 L257.83,63.33 L258.04,62.14 L258.24,60.95 L258.44,59.76 L258.63,58.57 L258.83,57.37 L259.02,56.18 L259.22,54.99 L259.41,53.80 L259.60,52.60 L259.80,51.41 L260.00,50.22 L260.20,49.03 L260.40,47.84 L260.61,46.65 L260.82,45.47 L261.03,44.28 L261.25,43.10 L261.48,41.91 L261.71,40.73 L261.94,39.55 L262.19,38.38 L262.44,37.20 L262.70,36.03 L262.97,34.86 L263.25,33.70 L263.54,32.53 L263.84,31.37 L264.15,30.21 L264.47,29.06 L264.81,27.91 L265.15,26.76 L265.51,25.62 L265.89,24.48 L266.28,23.35 L266.68,22.22 L267.10,21.10 L267.53,19.97 L267.98,18.86 L268.45,17.75 L268.93,16.64 L269.44,15.54 L269.96,14.45 L270.50,13.36 L271.06,12.28" fill="none" stroke="#111" stroke-width="1.4" stroke-dasharray="2.8 1.3 5.5 2.2" stroke-linecap="butt" stroke-linejoin="round"/>
<path d="M341.85,35.89 L342.10,37.13 L342.34,38.36 L342.58,39.59 L342.80,40.81 L343.03,42.03 L343.24,43.26 L343.45,44.47 L343.65,45.69 L343.85,46.91 L344.04,48.12 L344.22,49.33 L344.40,50.54 L344.57,51.74 L344.74,52.95 L344.91,54.15 L345.07,55.35 L345.22,56.55 L345.37,57.75 L345.52,58.95 L345.66,60.14 L345.80,61.34 L345.94,62.53 L346.07,63.72 L346.20,64.91 L346.33,66.10 L346.45,67.29 L346.57,68.48 L346.69,69.66 L346.81,70.85 L346.93,72.03 L347.04,73.21 L347.15,74.40 L347.27,75.58 L347.38,76.76 L347.49,77.94 L347.60,79.12 L347.71,80.30 L347.82,81.48 L347.93,82.66 L348.04,83.84 L348.15,85.02 L348.26,86.20 L348.37,87.38 L348.48,88.55 L348.60,89.73 L348.71,90.91 L348.83,92.09 L348.95,93.27 L349.07,94.45 L349.19,95.63 L349.32,96.81 L349.45,97.99 L349.58,99.17 L349.71,100.35 L349.85,101.54 L349.99,102.72 L350.14,103.90 L350.29,105.09 L350.44,106.28 L350.60,107.46 L350.76,108.65 L350.93,109.84 L351.10,111.03 L351.28,112.22 L351.47,113.41 L351.65,114.61 L351.85,115.80 L352.05,117.00 L352.25,118.20 L352.47,119.40 L352.69,120.60 L352.91,121.80 L353.15,123.01 L353.39,124.21 L353.64,125.42 L353.89,126.63 L354.15,127.85 L354.43,129.06 L354.71,130.28 L354.99,131.50 L355.29,132.72 L355.60,133.94 L355.91,135.17 L356.24,136.39 L356.57,137.61 L356.92,138.83" fill="none" stroke="#111" stroke-width="1.5" stroke-dasharray="7 1.5" stroke-linecap="butt" stroke-linejoin="round"/>
<path d="M356.17,137.59 L356.38,138.79 L356.59,139.98 L356.80,141.17 L357.03,142.35 L357.26,143.53 L357.51,144.71 L357.76,145.88 L358.03,147.05 L358.31,148.21 L358.60,149.37 L358.91,150.52 L359.24,151.66 L359.58,152.79 L359.95,153.92 L360.33,155.04 L360.73,156.15 L361.16,157.25 L361.61,158.33 L362.08,159.41 L362.58,160.48 L363.10,161.55 L363.64,162.60 L364.21,163.64 L364.81,164.67 L365.43,165.70 L366.08,166.71 L366.76,167.72 L367.46,168.72 L368.20,169.71 L368.96,170.69 L369.75,171.65 L370.56,172.60 L371.40,173.53 L372.26,174.44 L373.15,175.33 L374.06,176.18 L375.00,177.01 L375.95,177.81 L376.93,178.58 L377.92,179.30 L378.94,179.99 L379.97,180.64 L381.02,181.25 L382.09,181.81 L383.18,182.32 L384.28,182.78 L385.39,183.19 L386.52,183.54 L387.65,183.85 L388.80,184.11 L389.95,184.31 L391.11,184.46 L392.27,184.56 L393.43,184.60 L394.60,184.59 L395.77,184.52 L396.93,184.40 L398.09,184.23 L399.24,184.00 L400.39,183.71 L401.53,183.38 L402.66,183.00 L403.78,182.58 L404.90,182.12 L406.01,181.63 L407.10,181.10 L408.19,180.56 L409.27,179.99 L410.33,179.41 L411.39,178.80 L412.44,178.17 L413.48,177.53 L414.50,176.87 L415.52,176.19 L416.53,175.50 L417.54,174.80 L418.53,174.09 L419.51,173.36 L420.49,172.62 L421.46,171.87 L422.42,171.12 L423.37,170.35 L424.32,169.58 L425.26,168.80 L426.19,168.02 L427.12,167.24 L428.04,166.45 L428.95,165.65 L429.86,164.85 L430.77,164.05 L431.67,163.25 L432.56,162.44 L433.46,161.63 L434.35,160.82 L435.23,160.01 L436.12,159.19 L437.00,158.38 L437.88,157.56 L438.76,156.74 L439.64,155.93 L440.52,155.11 L441.40,154.30 L442.28,153.48 L443.16,152.67 L444.04,151.86 L444.92,151.05 L445.81,150.25 L446.70,149.44 L447.59,148.64 L448.48,147.85 L449.38,147.06 L450.28,146.27 L451.18,145.49 L452.09,144.71 L453.01,143.93 L453.93,143.17 L454.86,142.41 L455.79,141.65 L456.73,140.90 L457.68,140.16 L458.63,139.43 L459.60,138.70 L460.57,137.98 L461.55,137.27 L462.54,136.57 L463.53,135.87 L464.53,135.18 L465.54,134.50 L466.54,133.81 L467.55,133.13 L468.55,132.44 L469.55,131.75 L470.55,131.05 L471.54,130.35 L472.52,129.64 L473.49,128.93 L474.44,128.20 L475.39,127.46 L476.32,126.70 L477.23,125.93 L478.13,125.14 L479.00,124.33 L479.87,123.51 L480.71,122.68 L481.55,121.83 L482.37,120.97 L483.18,120.10 L483.98,119.22 L484.78,118.33 L485.56,117.43 L486.35,116.53 L487.13,115.62 L487.91,114.71 L488.68,113.79 L489.46,112.87 L490.24,111.95 L491.02,111.02 L491.80,110.10 L492.58,109.17 L493.37,108.24 L494.15,107.32 L494.93,106.38 L495.72,105.45 L496.50,104.52 L497.28,103.58 L498.06,102.64 L498.84,101.70 L499.61,100.76 L500.38,99.82 L501.15,98.87 L501.92,97.92 L502.68,96.97 L503.44,96.02 L504.20,95.06 L504.95,94.10 L505.69,93.14 L506.43,92.18 L507.17,91.22 L507.90,90.25 L508.62,89.28 L509.34,88.31 L510.04,87.33 L510.75,86.35 L511.44,85.37 L512.12,84.39 L512.80,83.40 L513.47,82.41 L514.13,81.42 L514.78,80.43 L515.42,79.43 L516.05,78.43 L516.67,77.42 L517.29,76.41 L517.90,75.40 L518.50,74.39 L519.10,73.38 L519.69,72.36 L520.28,71.34 L520.87,70.32 L521.46,69.30 L522.04,68.27 L522.63,67.24 L523.22,66.22 L523.81,65.19 L524.41,64.16 L525.00,63.13 L525.61,62.09 L526.22,61.06 L526.84,60.03 L527.46,58.99 L528.09,57.96 L528.74,56.92 L529.39,55.89 L530.06,54.85 L530.74,53.82 L531.43,52.78 L532.13,51.75 L532.85,50.72 L533.58,49.70 L534.33,48.68 L535.09,47.67 L535.87,46.68 L536.66,45.70 L537.47,44.74 L538.29,43.80 L539.12,42.87 L539.98,41.98 L540.84,41.10 L541.73,40.26 L542.63,39.44 L543.54,38.66 L544.47,37.91 L545.42,37.19 L546.39,36.52 L547.37,35.88 L548.37,35.29 L549.38,34.74 L550.41,34.24 L551.46,33.79 L552.53,33.39 L553.62,33.05 L554.72,32.76 L555.84,32.53 L556.98,32.36 L558.13,32.25 L559.30,32.18 L560.49,32.17 L561.68,32.21 L562.88,32.29 L564.09,32.40 L565.31,32.55 L566.53,32.74 L567.75,32.95 L568.98,33.18 L570.20,33.44 L571.41,33.71 L572.63,33.99 L573.83,34.29 L575.03,34.59 L576.21,34.89 L577.39,35.19 L578.55,35.48 L579.69,35.77 L580.81,36.04 L581.92,36.30" fill="none" stroke="#6a6a6a" stroke-width="1.1" stroke-dasharray="3.5 3" stroke-linecap="butt" stroke-linejoin="round"/>
<path d="M356.20,136.28 L356.48,137.50 L356.77,138.72 L357.07,139.94 L357.38,141.15 L357.70,142.35 L358.04,143.54 L358.40,144.72 L358.78,145.88 L359.17,147.04 L359.58,148.17 L360.02,149.29 L360.48,150.39 L360.96,151.46 L361.47,152.52 L362.01,153.54 L362.57,154.55 L363.17,155.52 L363.79,156.47 L364.45,157.38 L365.15,158.26 L365.87,159.11 L366.64,159.92 L367.44,160.69 L368.28,161.42 L369.16,162.12 L370.09,162.77 L371.06,163.37 L372.07,163.93 L373.12,164.44 L374.21,164.91 L375.33,165.34 L376.49,165.72 L377.67,166.05 L378.87,166.35 L380.10,166.60 L381.34,166.80 L382.60,166.97 L383.87,167.09 L385.14,167.17 L386.42,167.21 L387.70,167.21 L388.98,167.17 L390.25,167.09 L391.51,166.97 L392.76,166.81 L394.00,166.61 L395.21,166.38 L396.40,166.10 L397.57,165.79 L398.72,165.45 L399.85,165.08 L400.96,164.68 L402.06,164.25 L403.15,163.80 L404.23,163.33 L405.29,162.85 L406.35,162.35 L407.41,161.84 L408.46,161.32 L409.51,160.79 L410.57,160.26 L411.62,159.73 L412.68,159.20 L413.75,158.67 L414.82,158.15 L415.91,157.65 L417.00,157.15 L418.11,156.66 L419.22,156.18 L420.34,155.72 L421.47,155.27 L422.61,154.83 L423.75,154.40 L424.90,153.99 L426.06,153.60 L427.22,153.22 L428.39,152.85 L429.57,152.51 L430.74,152.18 L431.92,151.86 L433.11,151.57 L434.29,151.29 L435.48,151.04 L436.67,150.80 L437.86,150.59 L439.06,150.39 L440.25,150.22 L441.44,150.07 L442.63,149.93 L443.83,149.82 L445.02,149.72 L446.21,149.63 L447.41,149.55 L448.60,149.49 L449.80,149.43 L450.99,149.38 L452.19,149.34 L453.38,149.30 L454.58,149.26 L455.78,149.22 L456.98,149.18 L458.17,149.13 L459.37,149.08 L460.57,149.02 L461.77,148.96 L462.98,148.88 L464.18,148.80 L465.38,148.69 L466.59,148.58 L467.79,148.44 L469.00,148.29 L470.20,148.12 L471.41,147.92 L472.61,147.71 L473.81,147.46 L475.00,147.19 L476.18,146.90 L477.34,146.57 L478.50,146.22 L479.64,145.83 L480.76,145.41 L481.86,144.96 L482.94,144.47 L484.00,143.95 L485.04,143.38 L486.04,142.78 L487.02,142.14 L487.97,141.45 L488.89,140.72 L489.77,139.94 L490.61,139.12 L491.42,138.26 L492.19,137.35 L492.94,136.41 L493.66,135.44 L494.36,134.44 L495.05,133.42 L495.71,132.39 L496.37,131.34 L497.02,130.28 L497.66,129.23 L498.30,128.17 L498.94,127.12 L499.58,126.06 L500.22,125.02 L500.86,123.97 L501.50,122.93 L502.13,121.89 L502.77,120.85 L503.40,119.81 L504.04,118.77 L504.67,117.74 L505.30,116.71 L505.94,115.68 L506.57,114.65 L507.20,113.62 L507.82,112.59 L508.45,111.57 L509.08,110.54 L509.70,109.51 L510.32,108.49 L510.94,107.47 L511.56,106.44 L512.18,105.42 L512.80,104.40 L513.41,103.37 L514.03,102.35 L514.64,101.32 L515.25,100.30 L515.85,99.27 L516.46,98.25 L517.06,97.22 L517.66,96.19 L518.26,95.16 L518.86,94.13 L519.46,93.10 L520.05,92.07 L520.64,91.04 L521.23,90.00 L521.81,88.96 L522.40,87.93 L522.98,86.89 L523.56,85.84 L524.13,84.80 L524.71,83.75 L525.28,82.70 L525.85,81.65 L526.41,80.60 L526.97,79.54 L527.53,78.48 L528.09,77.42 L528.64,76.35 L529.20,75.28 L529.74,74.21 L530.29,73.14 L530.83,72.06 L531.37,70.97 L531.90,69.89 L532.44,68.80 L532.96,67.70 L533.49,66.61 L534.01,65.51 L534.53,64.40 L535.04,63.29 L535.55,62.17 L536.06,61.06 L536.57,59.93 L537.07,58.81 L537.58,57.69 L538.09,56.56 L538.59,55.44 L539.11,54.32 L539.62,53.20 L540.14,52.08 L540.67,50.97 L541.20,49.87 L541.74,48.77 L542.29,47.68 L542.85,46.60 L543.42,45.53 L544.00,44.46 L544.59,43.42 L545.20,42.38 L545.82,41.35 L546.46,40.34 L547.11,39.35 L547.78,38.37 L548.47,37.41 L549.18,36.47 L549.91,35.54 L550.66,34.64 L551.44,33.76 L552.23,32.90 L553.06,32.06 L553.90,31.25 L554.78,30.46 L555.68,29.70 L556.60,28.97 L557.56,28.28 L558.53,27.66 L559.54,27.10 L560.56,26.64 L561.61,26.27 L562.67,26.02 L563.75,25.90 L564.85,25.92 L565.96,26.10 L567.09,26.44 L568.23,26.91 L569.37,27.49 L570.52,28.16 L571.66,28.89 L572.80,29.66 L573.93,30.45 L575.05,31.22 L576.15,31.96 L577.24,32.65 L578.30,33.25 L579.33,33.74 L580.33,34.11 L581.30,34.32" fill="none" stroke="#5a5a5a" stroke-width="1.1" stroke-dasharray="8 2.5 1.5 2.5" stroke-linecap="butt" stroke-linejoin="round"/>
<path d="M356.03,134.96 L356.28,136.14 L356.52,137.33 L356.76,138.51 L356.99,139.70 L357.22,140.90 L357.44,142.10 L357.65,143.30 L357.85,144.51 L358.06,145.72 L358.27,146.92 L358.49,148.13 L358.71,149.33 L358.96,150.52 L359.22,151.70 L359.51,152.88 L359.82,154.04 L360.17,155.18 L360.55,156.31 L360.96,157.42 L361.43,158.51 L361.94,159.57 L362.49,160.62 L363.08,161.64 L363.72,162.64 L364.39,163.62 L365.10,164.58 L365.85,165.52 L366.62,166.44 L367.42,167.33 L368.25,168.22 L369.10,169.08 L369.98,169.92 L370.87,170.75 L371.79,171.56 L372.71,172.35 L373.65,173.13 L374.60,173.89 L375.56,174.64 L376.52,175.37 L377.49,176.08 L378.47,176.78 L379.45,177.47 L380.44,178.14 L381.44,178.80 L382.45,179.44 L383.46,180.07 L384.48,180.68 L385.50,181.29 L386.53,181.87 L387.57,182.45 L388.62,183.01 L389.68,183.56 L390.74,184.09 L391.81,184.62 L392.88,185.13 L393.97,185.62 L395.06,186.11 L396.16,186.58 L397.27,187.04 L398.38,187.49 L399.51,187.93 L400.64,188.35 L401.78,188.77 L402.92,189.17 L404.08,189.56 L405.24,189.94 L406.42,190.31 L407.60,190.67 L408.78,191.02 L409.98,191.36 L411.18,191.68 L412.39,191.99 L413.60,192.28 L414.82,192.55 L416.04,192.81 L417.26,193.04 L418.48,193.25 L419.70,193.44 L420.91,193.59 L422.13,193.73 L423.34,193.83 L424.55,193.90 L425.76,193.94 L426.96,193.95 L428.15,193.93 L429.34,193.88 L430.52,193.79 L431.70,193.68 L432.87,193.54 L434.03,193.37 L435.19,193.17 L436.34,192.94 L437.49,192.69 L438.63,192.41 L439.76,192.10 L440.89,191.77 L442.01,191.41 L443.13,191.03 L444.23,190.63 L445.34,190.21 L446.43,189.76 L447.52,189.29 L448.60,188.80 L449.68,188.29 L450.75,187.75 L451.81,187.20 L452.86,186.63 L453.91,186.05 L454.95,185.44 L455.99,184.82 L457.01,184.18 L458.03,183.53 L459.04,182.86 L460.05,182.17 L461.05,181.47 L462.04,180.76 L463.02,180.03 L463.99,179.30 L464.96,178.55 L465.92,177.79 L466.87,177.01 L467.81,176.23 L468.75,175.44 L469.68,174.64 L470.60,173.83 L471.51,173.01 L472.41,172.19 L473.31,171.36 L474.19,170.52 L475.07,169.68 L475.94,168.83 L476.80,167.98 L477.66,167.12 L478.50,166.26 L479.34,165.39 L480.17,164.52 L480.99,163.64 L481.81,162.75 L482.61,161.86 L483.41,160.97 L484.21,160.07 L484.99,159.17 L485.77,158.26 L486.54,157.34 L487.31,156.42 L488.07,155.50 L488.82,154.57 L489.57,153.63 L490.30,152.69 L491.04,151.75 L491.76,150.80 L492.49,149.84 L493.20,148.88 L493.91,147.92 L494.61,146.95 L495.31,145.97 L496.00,144.99 L496.69,144.01 L497.37,143.02 L498.05,142.02 L498.72,141.03 L499.39,140.02 L500.05,139.01 L500.70,138.00 L501.36,136.98 L502.00,135.96 L502.65,134.94 L503.29,133.91 L503.92,132.87 L504.55,131.84 L505.17,130.79 L505.79,129.75 L506.41,128.70 L507.02,127.65 L507.63,126.60 L508.23,125.55 L508.83,124.49 L509.42,123.43 L510.01,122.37 L510.59,121.31 L511.17,120.25 L511.75,119.19 L512.32,118.12 L512.89,117.06 L513.45,115.99 L514.01,114.92 L514.56,113.86 L515.11,112.79 L515.66,111.73 L516.20,110.66 L516.74,109.59 L517.27,108.52 L517.80,107.45 L518.33,106.39 L518.85,105.32 L519.37,104.25 L519.89,103.17 L520.40,102.10 L520.91,101.03 L521.42,99.95 L521.92,98.88 L522.42,97.80 L522.92,96.72 L523.42,95.65 L523.91,94.57 L524.40,93.48 L524.89,92.40 L525.37,91.31 L525.86,90.23 L526.34,89.14 L526.82,88.05 L527.29,86.96 L527.77,85.86 L528.24,84.77 L528.72,83.67 L529.19,82.57 L529.65,81.47 L530.12,80.36 L530.59,79.26 L531.05,78.15 L531.52,77.03 L531.98,75.92 L532.44,74.80 L532.90,73.68 L533.36,72.56 L533.82,71.44 L534.28,70.31 L534.74,69.18 L535.20,68.04 L535.65,66.90 L536.11,65.76 L536.57,64.62 L537.03,63.47 L537.48,62.32 L537.94,61.17 L538.40,60.01 L538.86,58.85 L539.32,57.69 L539.78,56.54 L540.25,55.38 L540.73,54.23 L541.21,53.08 L541.71,51.93 L542.21,50.80 L542.72,49.67 L543.24,48.55 L543.77,47.45 L544.32,46.35 L544.88,45.27 L545.46,44.21 L546.05,43.16 L546.67,42.13 L547.30,41.12 L547.95,40.13 L548.62,39.16 L549.31,38.21 L550.03,37.29 L550.77,36.39 L551.54,35.52 L552.34,34.68 L553.16,33.87 L554.01,33.09 L554.89,32.34 L555.80,31.63 L556.74,30.97 L557.71,30.37 L558.71,29.85 L559.74,29.40 L560.80,29.04 L561.89,28.78 L563.01,28.62 L564.16,28.55 L565.33,28.58 L566.51,28.69 L567.70,28.87 L568.90,29.13 L570.11,29.44 L571.32,29.82 L572.52,30.24 L573.71,30.70 L574.89,31.21 L576.06,31.74 L577.20,32.29 L578.32,32.87 L579.41,33.45 L580.47,34.04 L581.49,34.62 L582.47,35.19" fill="none" stroke="#111" stroke-width="1.7" stroke-dasharray="3.7 2.7" stroke-linecap="butt" stroke-linejoin="round"/>
<path d="M356.19,136.37 L356.44,137.57 L356.70,138.76 L356.98,139.95 L357.26,141.14 L357.56,142.31 L357.88,143.48 L358.22,144.64 L358.58,145.78 L358.96,146.92 L359.37,148.04 L359.81,149.14 L360.27,150.23 L360.77,151.30 L361.30,152.35 L361.86,153.38 L362.46,154.39 L363.10,155.37 L363.78,156.34 L364.51,157.27 L365.28,158.18 L366.09,159.06 L366.94,159.91 L367.84,160.73 L368.77,161.51 L369.73,162.25 L370.73,162.95 L371.76,163.61 L372.81,164.22 L373.89,164.78 L374.99,165.28 L376.11,165.73 L377.24,166.13 L378.39,166.46 L379.55,166.74 L380.72,166.96 L381.90,167.14 L383.09,167.26 L384.29,167.34 L385.50,167.38 L386.72,167.39 L387.94,167.36 L389.17,167.30 L390.40,167.22 L391.63,167.12 L392.87,167.00 L394.11,166.86 L395.35,166.72 L396.58,166.56 L397.82,166.41 L399.06,166.25 L400.29,166.10 L401.53,165.96 L402.75,165.83 L403.97,165.71 L405.19,165.61 L406.40,165.53 L407.60,165.48 L408.79,165.45 L409.98,165.44 L411.17,165.45 L412.35,165.47 L413.52,165.51 L414.70,165.57 L415.86,165.65 L417.03,165.74 L418.20,165.84 L419.36,165.95 L420.52,166.07 L421.69,166.21 L422.85,166.35 L424.01,166.50 L425.18,166.66 L426.34,166.82 L427.51,166.99 L428.68,167.15 L429.86,167.33 L431.04,167.50 L432.22,167.67 L433.41,167.85 L434.61,168.02 L435.81,168.19 L437.01,168.35 L438.23,168.51 L439.45,168.66 L440.68,168.81 L441.92,168.94 L443.16,169.07 L444.41,169.19 L445.66,169.30 L446.91,169.39 L448.17,169.47 L449.42,169.54 L450.68,169.60 L451.94,169.64 L453.19,169.66 L454.44,169.66 L455.69,169.65 L456.93,169.62 L458.16,169.57 L459.39,169.49 L460.61,169.40 L461.82,169.28 L463.02,169.14 L464.22,168.97 L465.39,168.78 L466.56,168.56 L467.71,168.31 L468.85,168.03 L469.97,167.73 L471.08,167.40 L472.17,167.03 L473.24,166.63 L474.28,166.20 L475.31,165.73 L476.32,165.23 L477.31,164.70 L478.27,164.12 L479.20,163.51 L480.12,162.86 L481.00,162.18 L481.86,161.45 L482.70,160.69 L483.51,159.90 L484.30,159.07 L485.07,158.21 L485.82,157.32 L486.55,156.40 L487.27,155.46 L487.96,154.49 L488.64,153.50 L489.30,152.48 L489.94,151.44 L490.57,150.39 L491.19,149.31 L491.79,148.22 L492.38,147.11 L492.96,145.99 L493.53,144.86 L494.09,143.72 L494.64,142.56 L495.19,141.40 L495.73,140.23 L496.26,139.06 L496.78,137.88 L497.30,136.70 L497.82,135.52 L498.34,134.34 L498.85,133.16 L499.36,131.98 L499.88,130.81 L500.39,129.65 L500.90,128.50 L501.42,127.35 L501.94,126.21 L502.47,125.09 L503.00,123.98 L503.53,122.88 L504.07,121.80 L504.61,120.72 L505.16,119.65 L505.71,118.60 L506.27,117.55 L506.82,116.51 L507.38,115.48 L507.95,114.45 L508.52,113.43 L509.08,112.42 L509.66,111.41 L510.23,110.40 L510.81,109.40 L511.39,108.40 L511.97,107.40 L512.55,106.40 L513.14,105.40 L513.72,104.40 L514.31,103.40 L514.89,102.39 L515.48,101.39 L516.07,100.38 L516.66,99.36 L517.25,98.34 L517.84,97.32 L518.43,96.29 L519.02,95.26 L519.61,94.22 L520.20,93.18 L520.79,92.13 L521.37,91.08 L521.96,90.03 L522.55,88.98 L523.14,87.92 L523.73,86.86 L524.31,85.79 L524.90,84.73 L525.49,83.66 L526.07,82.59 L526.66,81.51 L527.24,80.44 L527.82,79.36 L528.40,78.28 L528.98,77.20 L529.56,76.12 L530.14,75.04 L530.72,73.96 L531.30,72.88 L531.87,71.80 L532.44,70.71 L533.01,69.63 L533.59,68.55 L534.15,67.47 L534.72,66.39 L535.29,65.31 L535.85,64.23 L536.41,63.15 L536.97,62.07 L537.53,61.00 L538.09,59.93 L538.64,58.85 L539.19,57.79 L539.74,56.72 L540.29,55.66 L540.83,54.59 L541.38,53.54 L541.92,52.48 L542.46,51.43 L543.00,50.38 L543.53,49.33 L544.07,48.28 L544.61,47.24 L545.16,46.19 L545.70,45.15 L546.26,44.10 L546.81,43.06 L547.37,42.01 L547.94,40.97 L548.52,39.92 L549.10,38.87 L549.69,37.82 L550.30,36.76 L550.91,35.70 L551.53,34.64 L552.17,33.58 L552.82,32.51 L553.49,31.44 L554.17,30.37 L554.87,29.32 L555.61,28.31 L556.38,27.35 L557.19,26.46 L558.05,25.65 L558.96,24.95 L559.93,24.37 L560.96,23.92 L562.07,23.62 L563.22,23.46 L564.41,23.45 L565.62,23.56 L566.83,23.80 L568.02,24.16 L569.17,24.63 L570.26,25.21 L571.29,25.89 L572.24,26.65 L573.14,27.47 L574.01,28.34 L574.85,29.23 L575.68,30.13 L576.51,31.02 L577.37,31.88 L578.26,32.68 L579.21,33.41 L580.21,34.06 L581.30,34.59 L582.49,35.00" fill="none" stroke="#111" stroke-width="1.4" stroke-dasharray="2.8 1.3 5.5 2.2" stroke-linecap="butt" stroke-linejoin="round"/>
<path d="M38.27,421.34 L39.56,421.61 L40.75,421.69 L41.84,421.58 L42.84,421.30 L43.77,420.87 L44.62,420.32 L45.40,419.65 L46.13,418.88 L46.81,418.03 L47.44,417.12 L48.04,416.16 L48.60,415.17 L49.15,414.17 L49.68,413.16 L50.18,412.14 L50.67,411.10 L51.14,410.06 L51.59,409.00 L52.02,407.94 L52.43,406.86 L52.83,405.78 L53.22,404.69 L53.59,403.59 L53.95,402.48 L54.29,401.36 L54.62,400.23 L54.94,399.10 L55.25,397.96 L55.55,396.81 L55.83,395.66 L56.11,394.50 L56.38,393.34 L56.64,392.16 L56.90,390.99 L57.15,389.81 L57.39,388.62 L57.62,387.43 L57.86,386.24 L58.08,385.04 L58.31,383.84 L58.53,382.63 L58.75,381.42 L58.97,380.21 L59.18,379.00 L59.40,377.79 L59.62,376.57 L59.84,375.35 L60.06,374.14 L60.28,372.92 L60.50,371.70 L60.73,370.48 L60.96,369.26 L61.19,368.03 L61.42,366.81 L61.65,365.59 L61.89,364.37 L62.13,363.15 L62.38,361.93 L62.63,360.71 L62.88,359.50 L63.14,358.28 L63.40,357.07 L63.66,355.85 L63.94,354.64 L64.21,353.44 L64.49,352.23 L64.78,351.03 L65.07,349.83 L65.37,348.63 L65.67,347.43 L65.98,346.24 L66.30,345.05 L66.62,343.87 L66.95,342.69 L67.29,341.51 L67.64,340.34 L67.99,339.17 L68.35,338.01 L68.72,336.85 L69.10,335.70 L69.49,334.55 L69.88,333.41 L70.29,332.27 L70.70,331.14 L71.12,330.02 L71.56,328.90 L72.00,327.78 L72.45,326.68 L72.91,325.58 L73.39,324.49 L73.87,323.40 L74.37,322.32 L74.87,321.25 L75.39,320.19 L75.92,319.14 L76.46,318.09 L77.02,317.05 L77.58,316.02 L78.16,315.00 L78.75,313.99 L79.36,312.99 L79.98,311.99 L80.61,311.01 L81.25,310.04 L81.91,309.07 L82.58,308.12 L83.27,307.17 L83.97,306.24 L84.69,305.32 L85.42,304.40" fill="none" stroke="#1a1a1a" stroke-width="1.5" stroke-linecap="butt" stroke-linejoin="round"/>
<path d="M84.69,305.32 L85.42,304.40 L86.17,303.50 L86.93,302.61 L87.71,301.73 L88.50,300.87 L89.31,300.01 L90.14,299.17 L90.98,298.34 L91.84,297.52 L92.72,296.71 L93.61,295.92 L94.52,295.14 L95.45,294.37 L96.40,293.62 L97.36,292.88 L98.34,292.15 L99.33,291.43 L100.34,290.73 L101.35,290.03 L102.38,289.35 L103.42,288.67 L104.47,288.01 L105.53,287.36 L106.59,286.71 L107.66,286.08 L108.74,285.45 L109.83,284.84 L110.91,284.23 L112.00,283.63 L113.09,283.03 L114.19,282.44 L115.28,281.86 L116.37,281.29 L117.46,280.72 L118.55,280.16 L119.63,279.60 L120.71,279.05 L121.79,278.50 L122.87,277.96 L123.94,277.42 L125.01,276.89 L126.08,276.37 L127.15,275.85 L128.21,275.34 L129.28,274.83 L130.34,274.33 L131.41,273.83 L132.48,273.34 L133.54,272.86 L134.61,272.38 L135.68,271.91 L136.76,271.45 L137.83,270.99 L138.91,270.54 L139.99,270.10 L141.08,269.66 L142.17,269.23 L143.26,268.80 L144.36,268.39 L145.47,267.98 L146.58,267.57 L147.70,267.18 L148.82,266.79 L149.95,266.41" fill="none" stroke="#111" stroke-width="1.55" stroke-dasharray="4.5 1.8" stroke-linecap="butt" stroke-linejoin="round"/>
<path d="M83.37,306.88 L84.07,305.89 L84.79,304.90 L85.51,303.92 L86.25,302.96 L86.99,302.00 L87.75,301.06 L88.52,300.13 L89.30,299.21 L90.09,298.30 L90.89,297.40 L91.70,296.52 L92.52,295.65 L93.36,294.80 L94.20,293.96 L95.05,293.13 L95.91,292.32 L96.78,291.53 L97.66,290.75 L98.55,289.98 L99.45,289.23 L100.36,288.49 L101.28,287.77 L102.20,287.06 L103.14,286.36 L104.08,285.67 L105.04,285.00 L106.00,284.34 L106.97,283.69 L107.95,283.05 L108.93,282.43 L109.93,281.81 L110.93,281.20 L111.94,280.61 L112.96,280.02 L113.98,279.45 L115.01,278.88 L116.05,278.32 L117.10,277.77 L118.16,277.23 L119.22,276.70 L120.28,276.17 L121.36,275.65 L122.44,275.14 L123.53,274.64 L124.62,274.14 L125.72,273.65 L126.83,273.16 L127.94,272.68 L129.06,272.21 L130.18,271.74 L131.31,271.27 L132.45,270.81 L133.59,270.35 L134.74,269.90 L135.89,269.45 L137.04,269.00 L138.20,268.55 L139.37,268.11 L140.54,267.67 L141.72,267.23 L142.90,266.79 L144.08,266.36 L145.27,265.93 L146.46,265.51 L147.65,265.09 L148.85,264.67 L150.05,264.26 L151.25,263.86 L152.45,263.46 L153.66,263.07 L154.87,262.69 L156.08,262.32 L157.29,261.95 L158.50,261.59 L159.72,261.25 L160.93,260.91 L162.15,260.58 L163.36,260.27 L164.58,259.96 L165.79,259.67 L167.01,259.39 L168.22,259.12 L169.43,258.86 L170.64,258.62 L171.85,258.39 L173.06,258.18 L174.27,257.98 L175.47,257.80 L176.68,257.64 L177.87,257.49 L179.07,257.35 L180.26,257.24 L181.45,257.14 L182.64,257.06 L183.82,257.00 L185.00,256.96 L186.17,256.94 L187.34,256.94 L188.51,256.96 L189.67,257.00 L190.82,257.06 L191.97,257.15 L193.12,257.26 L194.25,257.39 L195.38,257.54 L196.51,257.72 L197.63,257.93 L198.74,258.16 L199.84,258.41 L200.94,258.69 L202.03,259.00 L203.11,259.33 L204.18,259.69 L205.25,260.08 L206.30,260.49 L207.35,260.93 L208.39,261.40 L209.42,261.89 L210.44,262.41 L211.46,262.95 L212.46,263.52 L213.46,264.11 L214.45,264.72 L215.43,265.35 L216.40,266.00 L217.37,266.68 L218.32,267.37 L219.27,268.09 L220.21,268.82 L221.14,269.58 L222.06,270.35 L222.97,271.14 L223.87,271.94 L224.77,272.77 L225.65,273.60 L226.53,274.46 L227.40,275.33 L228.26,276.21 L229.11,277.11 L229.95,278.02 L230.78,278.94 L231.60,279.87 L232.42,280.82 L233.22,281.78 L234.02,282.74 L234.81,283.72 L235.58,284.71 L236.35,285.71 L237.11,286.71 L237.86,287.72 L238.61,288.74 L239.34,289.77 L240.06,290.80 L240.78,291.84 L241.48,292.88 L242.18,293.93 L242.86,294.98 L243.54,296.03 L244.21,297.09 L244.86,298.15 L245.51,299.21 L246.15,300.27 L246.78,301.33 L247.40,302.40 L248.01,303.46 L248.61,304.52 L249.20,305.58 L249.79,306.64 L250.36,307.70 L250.93,308.77 L251.49,309.83 L252.04,310.89 L252.59,311.95 L253.13,313.01 L253.66,314.07 L254.19,315.14 L254.71,316.20 L255.23,317.26 L255.74,318.32 L256.24,319.39 L256.74,320.45 L257.24,321.52 L257.73,322.58 L258.22,323.65 L258.71,324.71 L259.19,325.78 L259.67,326.85 L260.15,327.92 L260.63,328.99 L261.10,330.06 L261.58,331.13 L262.05,332.20 L262.52,333.28 L262.99,334.35 L263.46,335.43 L263.93,336.51 L264.40,337.59 L264.88,338.67 L265.35,339.75 L265.83,340.84 L266.30,341.92 L266.78,343.01 L267.26,344.10 L267.75,345.19 L268.23,346.28 L268.72,347.38 L269.22,348.47 L269.71,349.57 L270.21,350.67 L270.72,351.77 L271.23,352.88 L271.75,353.99 L272.27,355.09 L272.80,356.21 L273.33,357.32 L273.87,358.44 L274.42,359.56 L274.97,360.68 L275.53,361.80 L276.10,362.93 L276.68,364.06 L277.26,365.19" fill="none" stroke="#5a5a5a" stroke-width="1.0" stroke-linecap="butt" stroke-linejoin="round"/>
<path d="M148.09,268.13 L149.22,267.77 L150.37,267.41 L151.51,267.07 L152.67,266.74 L153.84,266.43 L155.01,266.13 L156.20,265.84 L157.39,265.56 L158.59,265.31 L159.79,265.06 L161.00,264.83 L162.21,264.62 L163.43,264.42 L164.66,264.24 L165.89,264.07 L167.12,263.92 L168.35,263.79 L169.59,263.67 L170.82,263.58 L172.06,263.50 L173.30,263.43 L174.53,263.39 L175.77,263.37 L177.01,263.36 L178.24,263.37 L179.47,263.40 L180.70,263.46 L181.92,263.53 L183.14,263.62 L184.35,263.73 L185.56,263.87 L186.76,264.02 L187.96,264.20 L189.15,264.40 L190.33,264.62 L191.50,264.86 L192.67,265.12 L193.82,265.41 L194.97,265.72 L196.10,266.06 L197.23,266.42 L198.34,266.80 L199.44,267.21 L200.52,267.64 L201.60,268.10 L202.66,268.58 L203.70,269.09 L204.73,269.62 L205.75,270.18 L206.75,270.77 L207.73,271.38 L208.69,272.02 L209.64,272.69 L210.57,273.38 L211.48,274.10 L212.38,274.85 L213.26,275.61 L214.12,276.40 L214.97,277.22 L215.80,278.05 L216.62,278.90 L217.43,279.78 L218.22,280.67 L219.01,281.58 L219.77,282.50 L220.53,283.45 L221.27,284.40 L222.01,285.37 L222.73,286.36 L223.44,287.36 L224.14,288.36 L224.84,289.38 L225.52,290.41 L226.20,291.45 L226.87,292.49 L227.53,293.54 L228.18,294.60 L228.83,295.67 L229.47,296.73 L230.10,297.80 L230.73,298.88 L231.36,299.95 L231.98,301.03 L232.60,302.11 L233.21,303.18 L233.82,304.26 L234.43,305.33 L235.03,306.39 L235.64,307.46 L236.24,308.52 L236.84,309.57 L237.44,310.63 L238.03,311.68 L238.63,312.72 L239.22,313.77 L239.81,314.81 L240.40,315.85 L240.98,316.89 L241.56,317.93 L242.14,318.97 L242.72,320.00 L243.30,321.04 L243.87,322.08 L244.44,323.11 L245.01,324.15 L245.57,325.19 L246.13,326.23 L246.69,327.27 L247.25,328.31 L247.80,329.36 L248.35,330.41 L248.89,331.46 L249.44,332.51 L249.98,333.57 L250.51,334.63 L251.05,335.70 L251.57,336.77 L252.10,337.84 L252.62,338.91 L253.14,339.99 L253.66,341.08 L254.17,342.16 L254.68,343.25 L255.18,344.35 L255.68,345.44 L256.18,346.54 L256.67,347.64 L257.16,348.75 L257.64,349.85 L258.12,350.96 L258.60,352.08 L259.07,353.19 L259.54,354.31 L260.00,355.43 L260.46,356.55 L260.92,357.67 L261.37,358.80 L261.81,359.93 L262.25,361.06 L262.69,362.19 L263.12,363.33 L263.55,364.46 L263.97,365.60 L264.39,366.74 L264.81,367.88 L265.22,369.02 L265.62,370.17 L266.02,371.31 L266.41,372.46 L266.80,373.61 L267.18,374.76 L267.56,375.90 L267.94,377.05 L268.31,378.21 L268.67,379.36 L269.03,380.51 L269.38,381.66 L269.73,382.82 L270.07,383.97 L270.40,385.12 L270.73,386.28 L271.06,387.43 L271.38,388.59 L271.69,389.74 L272.00,390.90 L272.30,392.05 L272.60,393.21 L272.89,394.36 L273.17,395.52 L273.45,396.67" fill="none" stroke="#6a6a6a" stroke-width="1.1" stroke-dasharray="3.5 3" stroke-linecap="butt" stroke-linejoin="round"/>
<path d="M148.41,267.38 L149.55,267.03 L150.70,266.69 L151.85,266.37 L153.01,266.06 L154.17,265.77 L155.35,265.49 L156.53,265.22 L157.71,264.98 L158.90,264.75 L160.10,264.53 L161.30,264.34 L162.50,264.15 L163.71,263.99 L164.92,263.84 L166.13,263.71 L167.35,263.59 L168.56,263.49 L169.78,263.41 L171.01,263.34 L172.23,263.29 L173.45,263.26 L174.67,263.24 L175.90,263.25 L177.12,263.27 L178.34,263.30 L179.56,263.36 L180.77,263.43 L181.99,263.52 L183.20,263.63 L184.41,263.75 L185.62,263.89 L186.82,264.05 L188.02,264.23 L189.21,264.43 L190.40,264.64 L191.58,264.88 L192.76,265.13 L193.93,265.40 L195.09,265.69 L196.25,265.99 L197.40,266.32 L198.54,266.66 L199.67,267.03 L200.79,267.41 L201.91,267.81 L203.01,268.23 L204.11,268.67 L205.19,269.13 L206.27,269.61 L207.33,270.11 L208.38,270.63 L209.42,271.16 L210.45,271.72 L211.47,272.30 L212.47,272.90 L213.46,273.51 L214.43,274.15 L215.39,274.81 L216.34,275.48 L217.28,276.18 L218.20,276.89 L219.11,277.62 L220.01,278.37 L220.89,279.13 L221.76,279.91 L222.62,280.71 L223.47,281.53 L224.31,282.36 L225.14,283.20 L225.95,284.06 L226.75,284.94 L227.55,285.83 L228.33,286.73 L229.10,287.64 L229.86,288.57 L230.61,289.51 L231.35,290.46 L232.08,291.43 L232.80,292.41 L233.51,293.39 L234.22,294.39 L234.91,295.40 L235.59,296.41 L236.27,297.44 L236.94,298.48 L237.59,299.52 L238.25,300.58 L238.89,301.64 L239.52,302.70 L240.15,303.78 L240.77,304.86 L241.38,305.95 L241.99,307.04 L242.58,308.14 L243.18,309.25 L243.76,310.36 L244.34,311.47 L244.91,312.59 L245.48,313.71 L246.04,314.84 L246.59,315.96 L247.14,317.09 L247.68,318.23 L248.22,319.36 L248.76,320.50 L249.29,321.63 L249.81,322.77 L250.33,323.90 L250.85,325.04 L251.36,326.18 L251.87,327.31 L252.37,328.45 L252.87,329.58 L253.37,330.71 L253.86,331.83 L254.35,332.96 L254.84,334.08 L255.33,335.19 L255.81,336.31 L256.29,337.41 L256.77,338.52 L257.25,339.62 L257.72,340.72 L258.19,341.81 L258.66,342.90 L259.12,343.99 L259.59,345.08 L260.05,346.16 L260.50,347.25 L260.96,348.33 L261.41,349.41 L261.85,350.49 L262.30,351.57 L262.74,352.65 L263.18,353.73 L263.61,354.81 L264.04,355.89 L264.47,356.97 L264.89,358.05 L265.31,359.14 L265.73,360.22 L266.14,361.31 L266.55,362.40 L266.95,363.49 L267.35,364.59 L267.75,365.69 L268.14,366.79 L268.53,367.90 L268.92,369.01 L269.29,370.12 L269.67,371.24 L270.04,372.37 L270.41,373.49 L270.77,374.63 L271.12,375.77 L271.48,376.92 L271.82,378.07 L272.17,379.23 L272.50,380.40 L272.83,381.57 L273.16,382.76 L273.48,383.94 L273.80,385.14 L274.11,386.35 L274.42,387.56 L274.72,388.79 L275.01,390.02 L275.30,391.26 L275.59,392.51 L275.87,393.78 L276.14,395.05 L276.41,396.33" fill="none" stroke="#5a5a5a" stroke-width="1.1" stroke-dasharray="8 2.5 1.5 2.5" stroke-linecap="butt" stroke-linejoin="round"/>
<path d="M149.11,267.35 L150.31,267.01 L151.50,266.67 L152.70,266.34 L153.90,266.02 L155.11,265.70 L156.31,265.39 L157.52,265.09 L158.73,264.79 L159.94,264.50 L161.15,264.22 L162.36,263.95 L163.58,263.68 L164.79,263.43 L166.00,263.19 L167.22,262.96 L168.43,262.73 L169.64,262.53 L170.85,262.33 L172.06,262.14 L173.27,261.97 L174.48,261.81 L175.69,261.67 L176.89,261.54 L178.09,261.42 L179.29,261.33 L180.49,261.24 L181.68,261.18 L182.87,261.13 L184.05,261.10 L185.24,261.08 L186.41,261.09 L187.59,261.11 L188.75,261.15 L189.92,261.22 L191.08,261.30 L192.23,261.40 L193.38,261.53 L194.52,261.68 L195.65,261.85 L196.78,262.04 L197.90,262.26 L199.02,262.50 L200.13,262.76 L201.23,263.05 L202.32,263.37 L203.41,263.71 L204.48,264.07 L205.55,264.47 L206.61,264.89 L207.66,265.34 L208.71,265.81 L209.74,266.32 L210.76,266.85 L211.77,267.42 L212.78,268.01 L213.77,268.64 L214.75,269.29 L215.72,269.97 L216.68,270.68 L217.64,271.42 L218.58,272.18 L219.51,272.96 L220.43,273.77 L221.34,274.60 L222.24,275.45 L223.13,276.31 L224.01,277.20 L224.87,278.10 L225.73,279.02 L226.58,279.96 L227.42,280.91 L228.25,281.87 L229.07,282.84 L229.88,283.82 L230.68,284.81 L231.46,285.81 L232.24,286.82 L233.01,287.84 L233.77,288.85 L234.52,289.88 L235.26,290.90 L235.99,291.93 L236.71,292.96 L237.42,293.98 L238.11,295.01 L238.80,296.03 L239.48,297.06 L240.16,298.08 L240.82,299.10 L241.47,300.12 L242.11,301.14 L242.75,302.16 L243.37,303.18 L243.99,304.21 L244.60,305.23 L245.20,306.25 L245.80,307.27 L246.38,308.30 L246.96,309.32 L247.53,310.35 L248.10,311.38 L248.65,312.41 L249.20,313.44 L249.74,314.48 L250.28,315.52 L250.81,316.56 L251.33,317.60 L251.85,318.65 L252.36,319.70 L252.86,320.75 L253.36,321.81 L253.86,322.87 L254.34,323.94 L254.83,325.01 L255.30,326.08 L255.78,327.16 L256.24,328.25 L256.71,329.34 L257.16,330.43 L257.62,331.53 L258.07,332.63 L258.51,333.74 L258.95,334.85 L259.38,335.97 L259.81,337.08 L260.24,338.21 L260.66,339.33 L261.08,340.46 L261.49,341.60 L261.90,342.73 L262.30,343.87 L262.70,345.02 L263.09,346.16 L263.48,347.31 L263.87,348.46 L264.25,349.62 L264.63,350.77 L265.00,351.93 L265.37,353.09 L265.73,354.26 L266.09,355.42 L266.45,356.59 L266.80,357.76 L267.15,358.93 L267.49,360.10 L267.83,361.27 L268.16,362.45 L268.50,363.62 L268.82,364.80 L269.15,365.97 L269.47,367.15 L269.78,368.33 L270.09,369.51 L270.40,370.69 L270.71,371.87 L271.01,373.05 L271.30,374.22 L271.60,375.40 L271.89,376.58 L272.17,377.76 L272.45,378.94 L272.73,380.12 L273.01,381.29 L273.28,382.47 L273.55,383.64 L273.81,384.81 L274.07,385.99 L274.33,387.16 L274.58,388.33 L274.83,389.49 L275.08,390.66 L275.32,391.82 L275.56,392.98 L275.80,394.14 L276.04,395.30 L276.27,396.46 L276.49,397.61 L276.72,398.76 L276.94,399.91" fill="none" stroke="#111" stroke-width="1.7" stroke-dasharray="3.7 2.7" stroke-linecap="butt" stroke-linejoin="round"/>
<path d="M148.82,266.79 L149.95,266.41 L151.09,266.04 L152.23,265.67 L153.39,265.31 L154.55,264.96 L155.72,264.62 L156.89,264.29 L158.07,263.96 L159.26,263.65 L160.46,263.34 L161.66,263.05 L162.86,262.76 L164.08,262.49 L165.29,262.23 L166.51,261.98 L167.73,261.75 L168.95,261.52 L170.18,261.31 L171.41,261.12 L172.64,260.93 L173.87,260.77 L175.11,260.61 L176.34,260.48 L177.57,260.35 L178.80,260.25 L180.03,260.16 L181.26,260.09 L182.49,260.03 L183.72,260.00 L184.94,259.98 L186.16,259.98 L187.37,260.00 L188.59,260.04 L189.79,260.10 L191.00,260.18 L192.19,260.28 L193.38,260.41 L194.57,260.55 L195.75,260.72 L196.92,260.91 L198.08,261.12 L199.24,261.35 L200.38,261.61 L201.52,261.90 L202.65,262.21 L203.77,262.54 L204.88,262.90 L205.98,263.28 L207.06,263.69 L208.14,264.13 L209.20,264.60 L210.25,265.09 L211.29,265.61 L212.32,266.16 L213.33,266.74 L214.33,267.35 L215.31,267.98 L216.28,268.64 L217.24,269.33 L218.18,270.04 L219.12,270.78 L220.04,271.54 L220.95,272.32 L221.84,273.12 L222.73,273.94 L223.60,274.78 L224.46,275.64 L225.32,276.52 L226.16,277.41 L226.99,278.31 L227.81,279.23 L228.62,280.16 L229.43,281.11 L230.22,282.06 L231.01,283.03 L231.78,284.00 L232.55,284.98 L233.31,285.97 L234.06,286.96 L234.81,287.96 L235.55,288.96 L236.28,289.96 L237.00,290.97 L237.72,291.97 L238.43,292.98 L239.14,293.99 L239.84,295.00 L240.53,296.01 L241.21,297.02 L241.89,298.03 L242.56,299.04 L243.23,300.06 L243.89,301.08 L244.54,302.09 L245.18,303.12 L245.82,304.14 L246.44,305.16 L247.07,306.19 L247.68,307.22 L248.29,308.25 L248.88,309.29 L249.47,310.32 L250.06,311.37 L250.63,312.41 L251.20,313.45 L251.76,314.50 L252.31,315.56 L252.85,316.61 L253.39,317.67 L253.91,318.74 L254.43,319.80 L254.94,320.88 L255.44,321.95 L255.93,323.03 L256.41,324.11 L256.89,325.20 L257.35,326.29 L257.81,327.39 L258.26,328.49 L258.70,329.59 L259.14,330.70 L259.56,331.81 L259.98,332.93 L260.39,334.05 L260.79,335.17 L261.18,336.29 L261.57,337.42 L261.95,338.55 L262.32,339.69 L262.68,340.83 L263.04,341.97 L263.39,343.11 L263.74,344.26 L264.07,345.41 L264.40,346.57 L264.73,347.72 L265.04,348.88 L265.35,350.04 L265.66,351.21 L265.96,352.37 L266.25,353.54 L266.53,354.71 L266.81,355.88 L267.09,357.06 L267.36,358.24 L267.62,359.42 L267.88,360.60 L268.13,361.78 L268.37,362.97 L268.61,364.15 L268.85,365.34 L269.08,366.53 L269.31,367.73 L269.53,368.92 L269.75,370.11 L269.96,371.31 L270.17,372.51 L270.37,373.71 L270.57,374.91 L270.76,376.11 L270.95,377.31 L271.14,378.51 L271.32,379.71 L271.50,380.92 L271.67,382.12 L271.84,383.33 L272.01,384.53 L272.18,385.74 L272.34,386.95 L272.49,388.16 L272.65,389.36 L272.80,390.57 L272.95,391.78 L273.09,392.99 L273.24,394.19 L273.38,395.40 L273.51,396.61 L273.65,397.82 L273.78,399.03 L273.91,400.23 L274.04,401.44 L274.17,402.64 L274.29,403.85 L274.41,405.06 L274.53,406.26 L274.65,407.46 L274.77,408.66 L274.89,409.87 L275.00,411.07 L275.11,412.27 L275.23,413.46 L275.34,414.66 L275.45,415.86 L275.56,417.05 L275.67,418.24 L275.77,419.44 L275.88,420.63 L275.99,421.81 L276.09,423.00 L276.20,424.19 L276.31,425.37 L276.41,426.55 L276.52,427.73 L276.62,428.91 L276.73,430.08 L276.84,431.25 L276.94,432.43" fill="none" stroke="#111" stroke-width="1.4" stroke-dasharray="2.8 1.3 5.5 2.2" stroke-linecap="butt" stroke-linejoin="round"/>
<path d="M345.80,269.25 L346.86,268.82 L347.94,268.39 L349.05,267.98 L350.18,267.58 L351.32,267.20 L352.49,266.84 L353.66,266.49 L354.86,266.16 L356.06,265.86 L357.28,265.57 L358.50,265.30 L359.73,265.05 L360.97,264.83 L362.21,264.63 L363.46,264.46 L364.71,264.31 L365.95,264.19 L367.20,264.10 L368.44,264.03 L369.68,263.99 L370.91,263.99 L372.13,264.01 L373.35,264.07 L374.55,264.16 L375.75,264.29 L376.92,264.45 L378.09,264.65 L379.23,264.88 L380.36,265.15 L381.46,265.46 L382.55,265.81 L383.61,266.19 L384.66,266.62 L385.69,267.08 L386.69,267.57 L387.68,268.10 L388.65,268.66 L389.60,269.25 L390.54,269.88 L391.45,270.53 L392.35,271.22 L393.23,271.93 L394.10,272.67 L394.95,273.43 L395.79,274.23 L396.61,275.04 L397.41,275.88 L398.21,276.75 L398.98,277.63 L399.75,278.54 L400.50,279.46 L401.24,280.41 L401.97,281.37 L402.68,282.35 L403.38,283.35 L404.08,284.36 L404.76,285.39 L405.43,286.43 L406.09,287.48 L406.74,288.54 L407.38,289.62 L408.02,290.70 L408.64,291.79 L409.26,292.89 L409.87,294.00 L410.47,295.11 L411.06,296.23 L411.65,297.35 L412.23,298.47 L412.81,299.60 L413.38,300.73 L413.95,301.85 L414.51,302.98 L415.07,304.11 L415.62,305.23 L416.17,306.35 L416.72,307.47 L417.26,308.59 L417.80,309.70 L418.33,310.81 L418.87,311.92 L419.39,313.03 L419.92,314.14 L420.44,315.24 L420.96,316.34 L421.48,317.45 L421.99,318.55 L422.50,319.64 L423.01,320.74 L423.52,321.83 L424.02,322.93 L424.52,324.02 L425.02,325.11 L425.52,326.20 L426.01,327.29 L426.51,328.38 L427.00,329.46 L427.49,330.55 L427.97,331.63 L428.46,332.72 L428.94,333.80 L429.43,334.88 L429.91,335.96 L430.39,337.04 L430.87,338.12 L431.35,339.20 L431.82,340.28 L432.30,341.36 L432.78,342.44 L433.25,343.52 L433.73,344.59 L434.20,345.67 L434.67,346.75 L435.15,347.83 L435.62,348.90 L436.09,349.98 L436.57,351.06 L437.04,352.14 L437.51,353.21 L437.98,354.29 L438.46,355.37 L438.93,356.45 L439.41,357.53 L439.88,358.61 L440.36,359.69 L440.83,360.77 L441.31,361.85 L441.79,362.93 L442.27,364.02 L442.75,365.10 L443.23,366.19 L443.72,367.27 L444.20,368.36 L444.69,369.45 L445.17,370.54 L445.66,371.63 L446.16,372.72 L446.65,373.81 L447.14,374.91 L447.64,376.00 L448.14,377.10 L448.64,378.20 L449.15,379.30 L449.65,380.40 L450.16,381.50 L450.68,382.61 L451.19,383.72 L451.71,384.83 L452.23,385.94 L452.75,387.05 L453.28,388.17 L453.81,389.28 L454.34,390.40 L454.88,391.53 L455.42,392.65 L455.96,393.78 L456.51,394.91 L457.06,396.04 L457.61,397.17 L458.17,398.31 L458.73,399.45 L459.30,400.58 L459.88,401.72 L460.46,402.85 L461.05,403.98 L461.64,405.10 L462.25,406.22 L462.86,407.33 L463.48,408.42 L464.12,409.51 L464.76,410.59 L465.42,411.65 L466.09,412.70 L466.77,413.73 L467.46,414.74 L468.17,415.74 L468.89,416.71 L469.63,417.67 L470.38,418.60 L471.15,419.51 L471.94,420.39 L472.75,421.25 L473.57,422.08 L474.42,422.87 L475.28,423.64 L476.16,424.38 L477.07,425.08 L477.99,425.75 L478.94,426.39 L479.91,426.99 L480.91,427.54 L481.92,428.06 L482.95,428.54 L484.00,428.97 L485.07,429.35 L486.14,429.69 L487.22,429.97 L488.31,430.20 L489.41,430.37 L490.50,430.49 L491.60,430.55 L492.69,430.54 L493.78,430.48 L494.86,430.34 L495.93,430.14 L496.99,429.86 L498.04,429.53 L499.07,429.12 L500.09,428.66 L501.10,428.14 L502.10,427.57 L503.09,426.94 L504.06,426.27 L505.02,425.56 L505.96,424.80 L506.90,424.01 L507.82,423.19 L508.72,422.33 L509.62,421.44 L510.50,420.54 L511.36,419.61 L512.22,418.66 L513.05,417.70 L513.88,416.73 L514.69,415.74 L515.49,414.76 L516.28,413.77 L517.05,412.77 L517.80,411.77 L518.55,410.77 L519.28,409.75 L520.01,408.74 L520.72,407.72 L521.41,406.70 L522.10,405.67 L522.78,404.64 L523.44,403.60 L524.10,402.56 L524.74,401.52 L525.38,400.47 L526.00,399.42 L526.62,398.37 L527.23,397.31 L527.83,396.25 L528.42,395.19 L529.01,394.12 L529.58,393.06 L530.15,391.98 L530.71,390.91 L531.27,389.83 L531.82,388.76 L532.36,387.67 L532.90,386.59 L533.43,385.51 L533.96,384.42 L534.48,383.33 L534.99,382.24 L535.51,381.15 L536.01,380.06 L536.52,378.96 L537.02,377.87 L537.52,376.77 L538.01,375.68 L538.51,374.58 L539.00,373.48 L539.49,372.38 L539.97,371.28 L540.46,370.18 L540.94,369.08 L541.43,367.98 L541.91,366.88 L542.40,365.78 L542.88,364.68 L543.36,363.58 L543.85,362.48 L544.33,361.38 L544.81,360.28 L545.29,359.18 L545.78,358.08 L546.26,356.98 L546.74,355.89 L547.22,354.79 L547.70,353.69 L548.19,352.59 L548.67,351.48 L549.14,350.38 L549.62,349.28 L550.10,348.18 L550.58,347.08 L551.05,345.98 L551.53,344.87 L552.00,343.77 L552.48,342.67 L552.95,341.56 L553.42,340.45 L553.89,339.35 L554.36,338.24 L554.83,337.13 L555.29,336.02 L555.76,334.91 L556.22,333.80 L556.68,332.69 L557.14,331.58 L557.60,330.46 L558.06,329.35 L558.52,328.23 L558.97,327.11 L559.42,325.99 L559.87,324.87 L560.32,323.75 L560.77,322.63 L561.21,321.51 L561.66,320.38 L562.11,319.26 L562.55,318.13 L563.00,317.01 L563.44,315.89 L563.89,314.76 L564.34,313.64 L564.79,312.51 L565.24,311.39 L565.69,310.27 L566.14,309.15 L566.60,308.03 L567.06,306.91 L567.52,305.79 L567.98,304.68 L568.45,303.56 L568.92,302.45 L569.39,301.34 L569.87,300.23 L570.36,299.12 L570.84,298.02 L571.34,296.92 L571.83,295.82 L572.34,294.73 L572.84,293.64 L573.36,292.55 L573.88,291.46 L574.40,290.38 L574.94,289.30 L575.48,288.23 L576.02,287.16 L576.58,286.09 L577.14,285.03 L577.71,283.97 L578.29,282.92 L578.88,281.87 L579.47,280.83 L580.07,279.79 L580.69,278.75 L581.31,277.73 L581.94,276.70 L582.59,275.69 L583.24,274.68 L583.90,273.67" fill="none" stroke="#6a6a6a" stroke-width="1.1" stroke-dasharray="3.5 3" stroke-linecap="butt" stroke-linejoin="round"/>
<path d="M344.71,269.23 L345.99,269.65 L347.26,270.10 L348.50,270.55 L349.74,271.03 L350.95,271.51 L352.15,272.01 L353.34,272.53 L354.51,273.06 L355.66,273.60 L356.80,274.15 L357.93,274.72 L359.04,275.30 L360.13,275.90 L361.21,276.50 L362.28,277.12 L363.33,277.75 L364.37,278.40 L365.40,279.05 L366.41,279.72 L367.42,280.40 L368.40,281.09 L369.38,281.80 L370.34,282.51 L371.29,283.23 L372.23,283.97 L373.16,284.71 L374.07,285.47 L374.98,286.24 L375.87,287.01 L376.75,287.80 L377.62,288.60 L378.49,289.40 L379.34,290.22 L380.18,291.04 L381.01,291.88 L381.83,292.72 L382.64,293.57 L383.44,294.43 L384.24,295.30 L385.02,296.17 L385.80,297.06 L386.56,297.95 L387.32,298.85 L388.07,299.76 L388.82,300.67 L389.55,301.59 L390.28,302.52 L391.00,303.46 L391.71,304.40 L392.42,305.35 L393.12,306.30 L393.81,307.26 L394.50,308.23 L395.18,309.20 L395.86,310.18 L396.53,311.16 L397.19,312.15 L397.85,313.14 L398.51,314.14 L399.16,315.14 L399.80,316.15 L400.44,317.16 L401.08,318.18 L401.71,319.20 L402.34,320.22 L402.96,321.25 L403.58,322.28 L404.20,323.31 L404.82,324.35 L405.43,325.39 L406.04,326.43 L406.65,327.48 L407.25,328.53 L407.86,329.58 L408.46,330.63 L409.06,331.68 L409.66,332.74 L410.26,333.79 L410.85,334.85 L411.45,335.91 L412.05,336.97 L412.64,338.03 L413.24,339.10 L413.83,340.16 L414.43,341.22 L415.02,342.28 L415.62,343.35 L416.22,344.41 L416.82,345.47 L417.42,346.53 L418.02,347.59 L418.62,348.65 L419.23,349.71 L419.84,350.77 L420.45,351.82 L421.06,352.88 L421.67,353.93 L422.29,354.98 L422.91,356.03 L423.54,357.07 L424.16,358.12 L424.80,359.16 L425.43,360.20 L426.07,361.23 L426.72,362.26 L427.36,363.29 L428.02,364.32 L428.68,365.34 L429.34,366.35 L430.01,367.37 L430.68,368.38 L431.37,369.38 L432.05,370.38 L432.74,371.37 L433.44,372.36 L434.15,373.35 L434.86,374.33 L435.58,375.30 L436.31,376.27 L437.04,377.23 L437.78,378.19 L438.53,379.14 L439.29,380.08 L440.06,381.02 L440.83,381.95 L441.62,382.88 L442.41,383.79 L443.21,384.70 L444.02,385.60 L444.84,386.50 L445.67,387.38 L446.51,388.26 L447.36,389.13 L448.22,390.00 L449.09,390.85 L449.97,391.69 L450.86,392.52 L451.76,393.34 L452.67,394.14 L453.59,394.92 L454.53,395.68 L455.47,396.42 L456.42,397.13 L457.39,397.81 L458.36,398.47 L459.35,399.09 L460.34,399.67 L461.35,400.22 L462.37,400.74 L463.39,401.21 L464.43,401.63 L465.48,402.02 L466.53,402.35 L467.60,402.63 L468.68,402.87 L469.77,403.05 L470.87,403.17 L471.98,403.23 L473.09,403.24 L474.21,403.20 L475.34,403.10 L476.46,402.96 L477.59,402.76 L478.72,402.51 L479.84,402.22 L480.96,401.88 L482.08,401.50 L483.19,401.07 L484.28,400.60 L485.37,400.09 L486.44,399.54 L487.50,398.95 L488.54,398.32 L489.56,397.66 L490.56,396.96 L491.55,396.23 L492.50,395.47 L493.44,394.68 L494.35,393.86 L495.24,393.01 L496.11,392.14 L496.95,391.24 L497.78,390.33 L498.59,389.39 L499.38,388.43 L500.16,387.45 L500.92,386.46 L501.67,385.46 L502.40,384.44 L503.12,383.42 L503.83,382.38 L504.53,381.34 L505.22,380.29 L505.91,379.24 L506.58,378.18 L507.25,377.13 L507.92,376.08 L508.58,375.03 L509.24,373.98 L509.89,372.94 L510.54,371.91 L511.20,370.88 L511.85,369.86 L512.50,368.84 L513.14,367.83 L513.79,366.82 L514.43,365.82 L515.07,364.82 L515.71,363.82 L516.35,362.82 L516.99,361.82 L517.62,360.83 L518.26,359.83 L518.89,358.83 L519.52,357.84 L520.15,356.84 L520.77,355.84 L521.40,354.84 L522.02,353.83 L522.64,352.82 L523.26,351.81 L523.88,350.79 L524.50,349.78 L525.11,348.76 L525.73,347.73 L526.34,346.71 L526.96,345.68 L527.57,344.65 L528.18,343.62 L528.80,342.59 L529.41,341.56 L530.02,340.52 L530.63,339.49 L531.25,338.45 L531.86,337.41 L532.47,336.38 L533.09,335.34 L533.70,334.30 L534.32,333.26 L534.94,332.22 L535.56,331.18 L536.18,330.14 L536.80,329.10 L537.42,328.07 L538.05,327.03 L538.68,326.00 L539.31,324.96 L539.94,323.93 L540.57,322.90 L541.21,321.87 L541.85,320.84 L542.49,319.81 L543.14,318.79 L543.79,317.77 L544.44,316.75 L545.10,315.73 L545.76,314.72 L546.42,313.71 L547.09,312.70 L547.76,311.70 L548.43,310.70 L549.11,309.70 L549.80,308.71 L550.48,307.72 L551.18,306.73 L551.88,305.75 L552.58,304.78 L553.29,303.80 L554.00,302.84 L554.72,301.88 L555.44,300.92 L556.17,299.97 L556.91,299.02 L557.65,298.08 L558.40,297.14 L559.15,296.22 L559.91,295.29 L560.68,294.38 L561.45,293.46 L562.23,292.56 L563.02,291.66 L563.82,290.77 L564.62,289.89 L565.43,289.01 L566.24,288.14 L567.07,287.28 L567.90,286.43 L568.74,285.58 L569.59,284.75 L570.45,283.92 L571.31,283.10 L572.19,282.28 L573.07,281.48 L573.96,280.68 L574.86,279.90 L575.77,279.12 L576.69,278.35 L577.62,277.60 L578.55,276.85 L579.50,276.11 L580.46,275.38 L581.42,274.66 L582.40,273.95 L583.39,273.25" fill="none" stroke="#5a5a5a" stroke-width="1.1" stroke-dasharray="8 2.5 1.5 2.5" stroke-linecap="butt" stroke-linejoin="round"/>
<path d="M345.67,268.99 L345.65,267.22 L345.82,265.58 L346.16,264.09 L346.64,262.77 L347.24,261.62 L347.95,260.67 L348.74,259.92 L349.60,259.39 L350.50,259.10 L351.42,259.04 L352.35,259.20 L353.29,259.54 L354.22,260.01 L355.13,260.58 L356.02,261.21 L356.89,261.89 L357.74,262.61 L358.57,263.37 L359.39,264.18 L360.18,265.02 L360.96,265.90 L361.73,266.81 L362.48,267.75 L363.22,268.71 L363.96,269.70 L364.68,270.70 L365.40,271.73 L366.11,272.77 L366.82,273.82 L367.52,274.88 L368.22,275.94 L368.92,277.01 L369.63,278.08 L370.33,279.14 L371.04,280.20 L371.76,281.25 L372.48,282.29 L373.21,283.31 L373.95,284.32 L374.69,285.30 L375.46,286.27 L376.23,287.20 L377.02,288.11 L377.83,288.99 L378.65,289.83 L379.49,290.65 L380.35,291.43 L381.23,292.18 L382.14,292.90 L383.06,293.60 L384.01,294.26 L384.99,294.91 L385.98,295.52 L387.01,296.12 L388.07,296.69 L389.15,297.24 L390.26,297.77 L391.40,298.28 L392.57,298.77 L393.76,299.23 L394.97,299.66 L396.19,300.06 L397.43,300.42 L398.67,300.75 L399.92,301.04 L401.17,301.29 L402.41,301.49 L403.65,301.65 L404.89,301.76 L406.10,301.81 L407.31,301.81 L408.49,301.75 L409.65,301.63 L410.80,301.47 L411.93,301.25 L413.04,300.98 L414.14,300.67 L415.23,300.32 L416.30,299.92 L417.36,299.49 L418.41,299.02 L419.45,298.51 L420.47,297.98 L421.49,297.41 L422.51,296.82 L423.51,296.20 L424.51,295.57 L425.51,294.91 L426.50,294.24 L427.48,293.55 L428.47,292.85 L429.45,292.13 L430.44,291.42 L431.42,290.69 L432.41,289.96 L433.39,289.23 L434.38,288.50 L435.37,287.77 L436.36,287.03 L437.35,286.29 L438.35,285.56 L439.34,284.82 L440.34,284.08 L441.34,283.34 L442.34,282.61 L443.35,281.87 L444.35,281.14 L445.36,280.41 L446.37,279.68 L447.38,278.95 L448.39,278.23 L449.40,277.51 L450.42,276.80 L451.44,276.09 L452.46,275.39 L453.49,274.70 L454.51,274.00 L455.54,273.32 L456.57,272.64 L457.61,271.98 L458.65,271.31 L459.68,270.66 L460.73,270.02 L461.77,269.38 L462.82,268.76 L463.87,268.14 L464.92,267.54 L465.98,266.94 L467.04,266.36 L468.10,265.79 L469.17,265.23 L470.24,264.69 L471.31,264.15 L472.38,263.64 L473.46,263.13 L474.54,262.64 L475.63,262.17 L476.72,261.70 L477.81,261.26 L478.91,260.83 L480.01,260.42 L481.11,260.02 L482.22,259.65 L483.33,259.29 L484.45,258.95 L485.56,258.62 L486.69,258.32 L487.81,258.04 L488.94,257.77 L490.08,257.53 L491.22,257.31 L492.36,257.10 L493.51,256.93 L494.66,256.77 L495.82,256.63 L496.98,256.52 L498.14,256.43 L499.31,256.36 L500.48,256.31 L501.66,256.28 L502.84,256.27 L504.02,256.28 L505.21,256.31 L506.40,256.35 L507.59,256.42 L508.79,256.50 L509.98,256.59 L511.18,256.70 L512.39,256.83 L513.59,256.97 L514.80,257.13 L516.00,257.30 L517.22,257.49 L518.43,257.68 L519.64,257.89 L520.85,258.11 L522.07,258.34 L523.29,258.59 L524.50,258.84 L525.72,259.10 L526.94,259.37 L528.16,259.65 L529.38,259.94 L530.60,260.23 L531.82,260.53 L533.04,260.84 L534.25,261.16 L535.47,261.48 L536.69,261.80 L537.91,262.13 L539.12,262.46 L540.34,262.80 L541.55,263.14 L542.76,263.48 L543.97,263.82 L545.18,264.17 L546.39,264.51 L547.59,264.86 L548.80,265.20 L550.00,265.55 L551.20,265.89 L552.39,266.23 L553.58,266.57 L554.77,266.90 L555.96,267.23 L557.15,267.56 L558.33,267.88 L559.50,268.20 L560.68,268.51 L561.85,268.82 L563.01,269.12 L564.17,269.41 L565.33,269.70 L566.48,269.97 L567.63,270.24 L568.78,270.50 L569.92,270.75 L571.05,270.99 L572.18,271.21 L573.30,271.43 L574.42,271.64 L575.54,271.83 L576.64,272.01 L577.75,272.17 L578.84,272.32 L579.93,272.46 L581.01,272.58 L582.09,272.69 L583.16,272.78" fill="none" stroke="#111" stroke-width="1.4" stroke-dasharray="2.8 1.3 5.5 2.2" stroke-linecap="butt" stroke-linejoin="round"/>
<path d="M345.87,269.02 L345.81,267.82 L345.82,266.58 L345.89,265.31 L346.02,264.02 L346.22,262.72 L346.47,261.42 L346.78,260.12 L347.15,258.85 L347.57,257.60 L348.05,256.40 L348.58,255.25 L349.15,254.15 L349.78,253.13 L350.45,252.18 L351.16,251.32 L351.92,250.57 L352.72,249.92 L353.55,249.40 L354.43,249.00 L355.34,248.75 L356.28,248.64 L357.26,248.68 L358.27,248.85 L359.30,249.14 L360.35,249.52 L361.41,249.99 L362.50,250.53 L363.59,251.12 L364.69,251.76 L365.79,252.42 L366.90,253.10 L368.01,253.79 L369.12,254.48 L370.24,255.18 L371.35,255.86 L372.47,256.53 L373.59,257.17 L374.70,257.79 L375.82,258.36 L376.94,258.89 L378.05,259.37 L379.17,259.79 L380.28,260.14 L381.38,260.42 L382.49,260.64 L383.59,260.78 L384.70,260.85 L385.79,260.87 L386.89,260.82 L387.99,260.72 L389.08,260.56 L390.17,260.35 L391.26,260.08 L392.34,259.77 L393.43,259.42 L394.51,259.02 L395.59,258.58 L396.67,258.11 L397.75,257.60 L398.83,257.05 L399.91,256.48 L400.98,255.88 L402.05,255.25 L403.13,254.61 L404.20,253.94 L405.27,253.25 L406.34,252.55 L407.41,251.84 L408.48,251.12 L409.55,250.39 L410.62,249.66 L411.68,248.93 L412.75,248.19 L413.82,247.46 L414.88,246.73 L415.95,246.02 L417.02,245.31 L418.09,244.61 L419.15,243.93 L420.22,243.26 L421.29,242.61 L422.37,241.98 L423.44,241.36 L424.51,240.76 L425.59,240.19 L426.67,239.64 L427.75,239.11 L428.84,238.61 L429.93,238.14 L431.02,237.70 L432.12,237.29 L433.22,236.91 L434.32,236.57 L435.43,236.26 L436.54,235.98 L437.66,235.75 L438.78,235.55 L439.91,235.40 L441.05,235.29 L442.19,235.22 L443.34,235.20 L444.49,235.23 L445.65,235.30 L446.81,235.42 L447.98,235.59 L449.15,235.80 L450.31,236.05 L451.48,236.34 L452.64,236.66 L453.80,237.03 L454.95,237.43 L456.10,237.86 L457.23,238.33 L458.35,238.83 L459.46,239.35 L460.56,239.90 L461.64,240.48 L462.70,241.09 L463.74,241.71 L464.77,242.36 L465.77,243.03 L466.76,243.72 L467.73,244.42 L468.68,245.15 L469.62,245.89 L470.54,246.65 L471.45,247.42 L472.34,248.21 L473.23,249.01 L474.10,249.83 L474.97,250.65 L475.82,251.49 L476.67,252.34 L477.51,253.20 L478.35,254.07 L479.18,254.94 L480.00,255.82 L480.82,256.71 L481.64,257.60 L482.46,258.50 L483.28,259.40 L484.09,260.31 L484.91,261.21 L485.73,262.12 L486.56,263.03 L487.38,263.94 L488.21,264.84 L489.04,265.75 L489.88,266.65 L490.71,267.55 L491.56,268.45 L492.40,269.34 L493.26,270.23 L494.11,271.11 L494.98,271.98 L495.85,272.85 L496.72,273.71 L497.60,274.56 L498.49,275.40 L499.39,276.23 L500.29,277.05 L501.21,277.86 L502.13,278.65 L503.06,279.43 L504.00,280.20 L504.95,280.96 L505.91,281.70 L506.88,282.42 L507.86,283.13 L508.85,283.81 L509.85,284.49 L510.87,285.14 L511.90,285.77 L512.93,286.38 L513.98,286.98 L515.04,287.55 L516.11,288.10 L517.19,288.63 L518.28,289.14 L519.38,289.62 L520.49,290.08 L521.60,290.52 L522.72,290.94 L523.85,291.33 L524.98,291.69 L526.12,292.03 L527.27,292.35 L528.42,292.64 L529.57,292.90 L530.73,293.14 L531.89,293.35 L533.05,293.53 L534.22,293.69 L535.39,293.81 L536.56,293.91 L537.73,293.97 L538.90,294.01 L540.07,294.02 L541.24,293.99 L542.41,293.94 L543.58,293.85 L544.75,293.73 L545.91,293.58 L547.07,293.40 L548.23,293.18 L549.39,292.93 L550.54,292.65 L551.68,292.33 L552.83,291.98 L553.96,291.59 L555.09,291.16 L556.21,290.70 L557.33,290.20 L558.43,289.67 L559.53,289.09 L560.63,288.49 L561.71,287.85 L562.79,287.19 L563.86,286.50 L564.92,285.80 L565.98,285.08 L567.04,284.35 L568.09,283.62 L569.13,282.88 L570.18,282.15 L571.21,281.42 L572.25,280.70 L573.28,279.99 L574.31,279.30 L575.34,278.64 L576.37,277.99 L577.40,277.38 L578.43,276.80 L579.45,276.26 L580.48,275.76 L581.51,275.30 L582.54,274.89 L583.57,274.54" fill="none" stroke="#111" stroke-width="1.7" stroke-dasharray="3.7 2.7" stroke-linecap="butt" stroke-linejoin="round"/>
</svg>
</body></html>
